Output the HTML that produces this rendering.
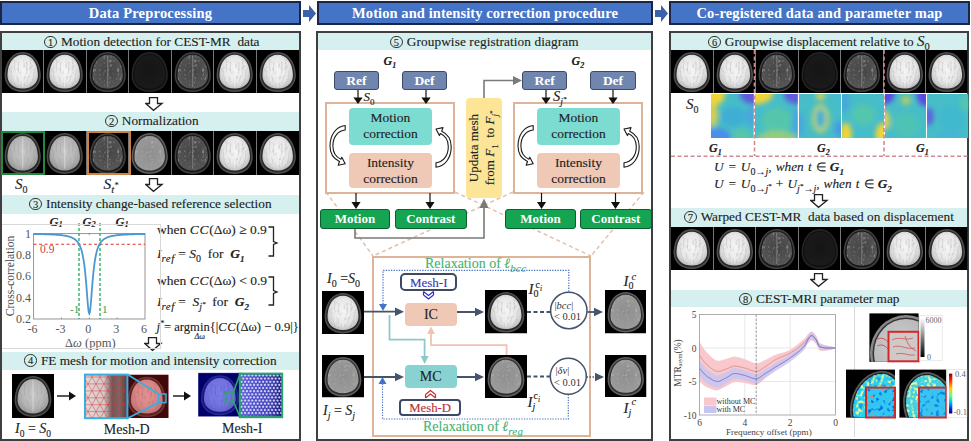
<!DOCTYPE html>
<html><head><meta charset="utf-8">
<style>
html,body{margin:0;padding:0;}
body{width:971px;height:441px;overflow:hidden;background:#fff;position:relative;font-family:"Liberation Serif",serif;color:#222;-webkit-text-stroke-width:0.12px;}
.a{position:absolute;}
.hdr{-webkit-text-stroke-width:0;position:absolute;top:1px;height:20px;background:#4573c5;border:2px solid #1b2647;color:#fff;font-weight:bold;font-size:14.5px;text-align:center;line-height:21px;letter-spacing:0.2px;}
.pnl{position:absolute;top:31px;height:406px;border:2px solid #3f3f3f;}
.band{position:absolute;background:#d5f0ef;font-size:13.3px;text-align:center;line-height:17.6px;text-indent:3px;color:#222;}
.strip{position:absolute;background:#000;}
.bi{position:absolute;width:43px;height:43px;}
.i{font-style:italic;}
.cn{display:inline-block;width:10.5px;height:10.5px;border:1.2px solid #333;border-radius:50%;font-size:10.5px;line-height:11px;text-align:center;vertical-align:0.5px;margin-right:4px;text-indent:0;}
.b{font-weight:bold;}
</style></head><body>
<svg width="0" height="0" style="position:absolute">
<defs>
<radialGradient id="gB" cx="50%" cy="45%" r="55%"><stop offset="0" stop-color="#f6f6f6"/><stop offset="0.7" stop-color="#e6e6e6"/><stop offset="1" stop-color="#c4c4c4"/></radialGradient>
<radialGradient id="gM" cx="50%" cy="45%" r="55%"><stop offset="0" stop-color="#c8c8c8"/><stop offset="0.7" stop-color="#b4b4b4"/><stop offset="1" stop-color="#9a9a9a"/></radialGradient>
<radialGradient id="gD" cx="50%" cy="45%" r="55%"><stop offset="0" stop-color="#444"/><stop offset="1" stop-color="#555"/></radialGradient>
<radialGradient id="gV" cx="50%" cy="45%" r="55%"><stop offset="0" stop-color="#151515"/><stop offset="1" stop-color="#1a1a1a"/></radialGradient>
<radialGradient id="gT" cx="50%" cy="45%" r="55%"><stop offset="0" stop-color="#8e8e8e"/><stop offset="1" stop-color="#9a9a9a"/></radialGradient>

<filter id="soft" x="-5%" y="-5%" width="110%" height="110%"><feGaussianBlur stdDeviation="0.8"/></filter>
<filter id="txD" x="0" y="0" width="100%" height="100%"><feTurbulence type="turbulence" baseFrequency="0.32 0.2" numOctaves="2" seed="7" result="n"/><feColorMatrix in="n" type="matrix" values="0 0 0 0 0.45  0 0 0 0 0.45  0 0 0 0 0.45  1.4 0 0 0 -0.42" result="m"/><feGaussianBlur in="m" stdDeviation="0.5" result="m2"/><feComposite in="m2" in2="SourceGraphic" operator="in"/></filter>
<filter id="txL" x="0" y="0" width="100%" height="100%"><feTurbulence type="turbulence" baseFrequency="0.35 0.22" numOctaves="2" seed="11" result="n"/><feColorMatrix in="n" type="matrix" values="0 0 0 0 0.55  0 0 0 0 0.55  0 0 0 0 0.55  1.1 0 0 0 -0.35" result="m"/><feGaussianBlur in="m" stdDeviation="0.5" result="m2"/><feComposite in="m2" in2="SourceGraphic" operator="in"/></filter>
<symbol id="bB" viewBox="0 0 43 43"><rect width="43" height="43" fill="#000"/><g><path d="M21.5,2C32,2 39.5,11 40.3,24C41,34 34,42 21.5,42C9,42 2,34 2.7,24C3.5,11 11,2 21.5,2Z" fill="#4e4e4e"/><path d="M21.5,3.5C31,3.5 38,12 38.8,24C39.5,33 33,40.5 21.5,40.5C10,40.5 3.5,33 4.2,24C5,12 12,3.5 21.5,3.5Z" fill="#2a2a2a"/><path d="M21.5,4.8C30.5,4.8 36.6,12.5 37.3,24C38,32 32,38.6 21.5,38.6C11,38.6 5,32 5.7,24C6.4,12.5 12.5,4.8 21.5,4.8Z" fill="url(#gB)"/><path d="M21.5,4.8C30.5,4.8 36.6,12.5 37.3,24C38,32 32,38.6 21.5,38.6C11,38.6 5,32 5.7,24C6.4,12.5 12.5,4.8 21.5,4.8Z" fill="#fff" filter="url(#txD)"/><path d="M12,9C15,13 11,17 14,21M8,18C12,22 8,26 12,30M11,31C14,33 12,35 15,37M17,12C18,16 16,20 18,24M31,9C28,13 32,17 29,21M35,18C31,22 35,26 31,30M32,31C29,33 31,35 28,37M26,12C25,16 27,20 25,24M15,26C17,28 15,31 18,33M28,26C26,28 28,31 25,33" stroke="#808080" stroke-width="0.8" fill="none" opacity="0.25"/><path d="M21.5,6V37" stroke="#f4f4f4" stroke-width="1.2" opacity="0.4"/></g></symbol><symbol id="bM" viewBox="0 0 43 43"><rect width="43" height="43" fill="#000"/><g><path d="M21.5,2C32,2 39.5,11 40.3,24C41,34 34,42 21.5,42C9,42 2,34 2.7,24C3.5,11 11,2 21.5,2Z" fill="#4a4a4a"/><path d="M21.5,3.5C31,3.5 38,12 38.8,24C39.5,33 33,40.5 21.5,40.5C10,40.5 3.5,33 4.2,24C5,12 12,3.5 21.5,3.5Z" fill="#262626"/><path d="M21.5,4.8C30.5,4.8 36.6,12.5 37.3,24C38,32 32,38.6 21.5,38.6C11,38.6 5,32 5.7,24C6.4,12.5 12.5,4.8 21.5,4.8Z" fill="url(#gM)"/><path d="M21.5,4.8C30.5,4.8 36.6,12.5 37.3,24C38,32 32,38.6 21.5,38.6C11,38.6 5,32 5.7,24C6.4,12.5 12.5,4.8 21.5,4.8Z" fill="#fff" filter="url(#txD)"/><path d="M12,9C15,13 11,17 14,21M8,18C12,22 8,26 12,30M11,31C14,33 12,35 15,37M17,12C18,16 16,20 18,24M31,9C28,13 32,17 29,21M35,18C31,22 35,26 31,30M32,31C29,33 31,35 28,37M26,12C25,16 27,20 25,24M15,26C17,28 15,31 18,33M28,26C26,28 28,31 25,33" stroke="#808080" stroke-width="0.8" fill="none" opacity="0.25"/><path d="M21.5,6V37" stroke="#f4f4f4" stroke-width="1.2" opacity="0.4"/></g></symbol><symbol id="bD" viewBox="0 0 43 43"><rect width="43" height="43" fill="#000"/><g><path d="M21.5,2C32,2 39.5,11 40.3,24C41,34 34,42 21.5,42C9,42 2,34 2.7,24C3.5,11 11,2 21.5,2Z" fill="#404040"/><path d="M21.5,3.5C31,3.5 38,12 38.8,24C39.5,33 33,40.5 21.5,40.5C10,40.5 3.5,33 4.2,24C5,12 12,3.5 21.5,3.5Z" fill="#1a1a1a"/><path d="M21.5,4.8C30.5,4.8 36.6,12.5 37.3,24C38,32 32,38.6 21.5,38.6C11,38.6 5,32 5.7,24C6.4,12.5 12.5,4.8 21.5,4.8Z" fill="url(#gD)"/><path d="M21.5,4.8C30.5,4.8 36.6,12.5 37.3,24C38,32 32,38.6 21.5,38.6C11,38.6 5,32 5.7,24C6.4,12.5 12.5,4.8 21.5,4.8Z" fill="#fff" filter="url(#txL)"/><path d="M21.5,6V37" stroke="#9a9a9a" stroke-width="1.1" opacity="0.6"/></g></symbol><symbol id="bV" viewBox="0 0 43 43"><rect width="43" height="43" fill="#000"/><g><path d="M21.5,2C32,2 39.5,11 40.3,24C41,34 34,42 21.5,42C9,42 2,34 2.7,24C3.5,11 11,2 21.5,2Z" fill="#252525"/><path d="M21.5,3.5C31,3.5 38,12 38.8,24C39.5,33 33,40.5 21.5,40.5C10,40.5 3.5,33 4.2,24C5,12 12,3.5 21.5,3.5Z" fill="#111"/><path d="M21.5,4.8C30.5,4.8 36.6,12.5 37.3,24C38,32 32,38.6 21.5,38.6C11,38.6 5,32 5.7,24C6.4,12.5 12.5,4.8 21.5,4.8Z" fill="url(#gV)"/></g></symbol><symbol id="bT" viewBox="0 0 43 43"><rect width="43" height="43" fill="#000"/><g><path d="M21.5,2C32,2 39.5,11 40.3,24C41,34 34,42 21.5,42C9,42 2,34 2.7,24C3.5,11 11,2 21.5,2Z" fill="#5e5e5e"/><path d="M21.5,3.5C31,3.5 38,12 38.8,24C39.5,33 33,40.5 21.5,40.5C10,40.5 3.5,33 4.2,24C5,12 12,3.5 21.5,3.5Z" fill="#303030"/><path d="M21.5,4.8C30.5,4.8 36.6,12.5 37.3,24C38,32 32,38.6 21.5,38.6C11,38.6 5,32 5.7,24C6.4,12.5 12.5,4.8 21.5,4.8Z" fill="url(#gT)"/><path d="M21.5,4.8C30.5,4.8 36.6,12.5 37.3,24C38,32 32,38.6 21.5,38.6C11,38.6 5,32 5.7,24C6.4,12.5 12.5,4.8 21.5,4.8Z" fill="#fff" filter="url(#txL)"/></g></symbol></defs></svg>

<!-- headers -->
<div class="hdr" style="left:0;width:297px;">Data Preprocessing</div>
<svg class="a" style="left:302px;top:5px" width="15" height="17"><path d="M1,5H7V0L14,8.5L7,17V12H1Z" fill="#3b62a8"/></svg>
<div class="hdr" style="left:317px;width:332px;letter-spacing:0.08px">Motion and intensity correction procedure</div>
<svg class="a" style="left:654px;top:5px" width="15" height="17"><path d="M1,5H7V0L14,8.5L7,17V12H1Z" fill="#3b62a8"/></svg>
<div class="hdr" style="left:669px;width:297px;letter-spacing:0.12px">Co-registered data and parameter map</div>

<!-- panels -->
<div class="pnl" style="left:0;width:297px;"></div>
<div class="pnl" style="left:316px;width:333px;"></div>
<div class="pnl" style="left:669px;width:296px;"></div>

<!-- LEFT PANEL -->
<div class="band" style="left:2px;top:33px;width:297px;height:17px;"><span class="cn">1</span>Motion detection for CEST-MR&nbsp; data</div>
<div class="strip" style="left:2px;top:50px;width:297px;height:43px;"></div>

<div class="band" style="left:2px;top:112px;width:297px;height:19px;"><span class="cn">2</span>Normalization</div>
<div class="strip" style="left:2px;top:131px;width:297px;height:44px;"></div>

<div class="band" style="left:2px;top:195px;width:297px;height:19px;text-indent:0"><span class="cn">3</span>Intensity change-based reference selection</div>

<div class="band" style="left:2px;top:351.5px;width:297px;height:18px;text-indent:0"><span class="cn">4</span>FE mesh for motion and intensity correction</div>


<!-- LEFT content -->
<svg class="a" style="left:2.0px;top:50px" width="41.4" height="43" viewBox="0 0 43 43" preserveAspectRatio="none"><use href="#bB"/></svg>
<svg class="a" style="left:44.4px;top:50px" width="41.4" height="43" viewBox="0 0 43 43" preserveAspectRatio="none"><use href="#bB"/></svg>
<div class="a" style="left:43.4px;top:50px;width:1px;height:43px;background:#777"></div>
<svg class="a" style="left:86.9px;top:50px" width="41.4" height="43" viewBox="0 0 43 43" preserveAspectRatio="none"><use href="#bD"/></svg>
<div class="a" style="left:85.9px;top:50px;width:1px;height:43px;background:#777"></div>
<svg class="a" style="left:129.3px;top:50px" width="41.4" height="43" viewBox="0 0 43 43" preserveAspectRatio="none"><use href="#bV"/></svg>
<div class="a" style="left:128.3px;top:50px;width:1px;height:43px;background:#777"></div>
<svg class="a" style="left:171.7px;top:50px" width="41.4" height="43" viewBox="0 0 43 43" preserveAspectRatio="none"><use href="#bD"/></svg>
<div class="a" style="left:170.7px;top:50px;width:1px;height:43px;background:#777"></div>
<svg class="a" style="left:214.1px;top:50px" width="41.4" height="43" viewBox="0 0 43 43" preserveAspectRatio="none"><use href="#bB"/></svg>
<div class="a" style="left:213.1px;top:50px;width:1px;height:43px;background:#777"></div>
<svg class="a" style="left:256.6px;top:50px" width="41.4" height="43" viewBox="0 0 43 43" preserveAspectRatio="none"><use href="#bB"/></svg>
<div class="a" style="left:255.6px;top:50px;width:1px;height:43px;background:#777"></div>
<svg class="a" style="left:145px;top:97px" width="19" height="15"><path d="M4.5,0.7H12.5V6.5H17L8.5,13.3L0.7,6.5H4.5Z" fill="#fff" stroke="#222" stroke-width="1.3"/></svg>
<svg class="a" style="left:2.0px;top:131px" width="41.4" height="44" viewBox="0 0 43 43" preserveAspectRatio="none"><use href="#bM"/></svg>
<svg class="a" style="left:44.4px;top:131px" width="41.4" height="44" viewBox="0 0 43 43" preserveAspectRatio="none"><use href="#bM"/></svg>
<div class="a" style="left:43.4px;top:131px;width:1px;height:44px;background:#777"></div>
<svg class="a" style="left:86.9px;top:131px" width="41.4" height="44" viewBox="0 0 43 43" preserveAspectRatio="none"><use href="#bD"/></svg>
<div class="a" style="left:85.9px;top:131px;width:1px;height:44px;background:#777"></div>
<svg class="a" style="left:129.3px;top:131px" width="41.4" height="44" viewBox="0 0 43 43" preserveAspectRatio="none"><use href="#bT"/></svg>
<div class="a" style="left:128.3px;top:131px;width:1px;height:44px;background:#777"></div>
<svg class="a" style="left:171.7px;top:131px" width="41.4" height="44" viewBox="0 0 43 43" preserveAspectRatio="none"><use href="#bD"/></svg>
<div class="a" style="left:170.7px;top:131px;width:1px;height:44px;background:#777"></div>
<svg class="a" style="left:214.1px;top:131px" width="41.4" height="44" viewBox="0 0 43 43" preserveAspectRatio="none"><use href="#bB"/></svg>
<div class="a" style="left:213.1px;top:131px;width:1px;height:44px;background:#777"></div>
<svg class="a" style="left:256.6px;top:131px" width="41.4" height="44" viewBox="0 0 43 43" preserveAspectRatio="none"><use href="#bB"/></svg>
<div class="a" style="left:255.6px;top:131px;width:1px;height:44px;background:#777"></div>
<div class="a" style="left:1px;top:131px;width:40px;height:40px;border:2px solid #1f8a3c"></div>
<div class="a" style="left:87px;top:131px;width:40px;height:40px;border:2px solid #d08040"></div>
<div class="a i" style="left:15px;top:176px;font-size:15px">S<sub style="font-size:10px;font-style:normal">0</sub></div>
<div class="a i" style="left:103.5px;top:175px;font-size:15.5px">S<sub style="font-size:11px">t<sup style="font-size:8px">*</sup></sub></div>
<svg class="a" style="left:145px;top:178px" width="19" height="15"><path d="M4.5,0.7H12.5V6.5H17L8.5,13.3L0.7,6.5H4.5Z" fill="#fff" stroke="#222" stroke-width="1.3"/></svg>


<svg class="a" style="left:0;top:214px" width="300" height="136" viewBox="0 214 300 136">
<g font-family="Liberation Serif" font-size="12" fill="#555">
<rect x="33.6" y="233.6" width="111.4" height="85.4" fill="none" stroke="#8a8a8a" stroke-width="0.9"/>
<path d="M61.5,319.0v-1.5M61.5,233.6v1.5" stroke="#555" stroke-width="0.6"/><path d="M89.3,319.0v-1.5M89.3,233.6v1.5" stroke="#555" stroke-width="0.6"/><path d="M117.2,319.0v-1.5M117.2,233.6v1.5" stroke="#555" stroke-width="0.6"/>
<text x="31" y="237.6" text-anchor="end">1</text><text x="31" y="258.9" text-anchor="end">0.8</text><text x="31" y="280.3" text-anchor="end">0.6</text><text x="31" y="301.6" text-anchor="end">0.4</text><text x="31" y="323.0" text-anchor="end">0.2</text>
<text x="32.6" y="333" text-anchor="middle">-6</text><text x="60.5" y="333" text-anchor="middle">-3</text><text x="88.3" y="333" text-anchor="middle">0</text><text x="116.2" y="333" text-anchor="middle">3</text><text x="144.0" y="333" text-anchor="middle">6</text>
<text x="65" y="347" font-size="12.5">Δ<tspan font-style="italic">ω</tspan> (ppm)</text>
<text transform="translate(13.5,276) rotate(-90)" text-anchor="middle" font-size="11.6" fill="#444">Cross-correlation</text>
</g>
<path d="M33.6,244.3H145" stroke="#d93030" stroke-width="1.1" stroke-dasharray="3,2.5"/>
<text x="40" y="253" font-family="Liberation Serif" font-size="11.5" fill="#d04040">0.9</text>
<path d="M79,223V319.0M100,223V319.0" stroke="#2fae66" stroke-width="1.4" stroke-dasharray="3,2"/>
<text x="70" y="313" font-family="Liberation Serif" font-size="11" fill="#1ea050">-1</text>
<text x="102" y="313" font-family="Liberation Serif" font-size="11" fill="#1ea050">1</text>
<polyline points="33.60,234.01 34.06,234.02 34.53,234.02 34.99,234.03 35.46,234.04 35.92,234.05 36.38,234.06 36.85,234.06 37.31,234.07 37.78,234.08 38.24,234.09 38.71,234.10 39.17,234.11 39.63,234.12 40.10,234.13 40.56,234.14 41.03,234.15 41.49,234.16 41.96,234.17 42.42,234.18 42.88,234.19 43.35,234.20 43.81,234.21 44.28,234.23 44.74,234.24 45.20,234.25 45.67,234.27 46.13,234.28 46.60,234.30 47.06,234.31 47.53,234.33 47.99,234.34 48.45,234.36 48.92,234.38 49.38,234.40 49.85,234.42 50.31,234.43 50.77,234.45 51.24,234.48 51.70,234.50 52.17,234.52 52.63,234.54 53.10,234.57 53.56,234.59 54.02,234.62 54.49,234.64 54.95,234.67 55.42,234.70 55.88,234.73 56.34,234.76 56.81,234.80 57.27,234.83 57.74,234.87 58.20,234.90 58.67,234.94 59.13,234.98 59.59,235.03 60.06,235.07 60.52,235.12 60.99,235.17 61.45,235.22 61.91,235.27 62.38,235.33 62.84,235.39 63.31,235.45 63.77,235.52 64.24,235.59 64.70,235.66 65.16,235.74 65.63,235.82 66.09,235.91 66.56,236.00 67.02,236.10 67.48,236.21 67.95,236.32 68.41,236.43 68.88,236.56 69.34,236.69 69.81,236.84 70.27,236.99 70.73,237.15 71.20,237.33 71.66,237.52 72.13,237.72 72.59,237.94 73.05,238.18 73.52,238.44 73.98,238.71 74.45,239.02 74.91,239.35 75.38,239.71 75.84,240.10 76.30,240.53 76.77,241.01 77.23,241.53 77.70,242.11 78.16,242.75 78.62,243.46 79.09,244.26 79.55,245.14 80.02,246.14 80.48,247.27 80.95,248.54 81.41,249.97 81.87,251.61 82.34,253.48 82.80,255.61 83.27,258.05 83.73,260.85 84.19,264.06 84.66,267.73 85.12,271.91 85.59,276.61 86.05,281.85 86.52,287.53 86.98,293.51 87.44,299.48 87.91,305.01 88.37,309.57 88.84,312.60 89.30,313.66 89.76,312.60 90.23,309.57 90.69,305.01 91.16,299.48 91.62,293.51 92.09,287.53 92.55,281.85 93.01,276.61 93.48,271.91 93.94,267.73 94.41,264.06 94.87,260.85 95.33,258.05 95.80,255.61 96.26,253.48 96.73,251.61 97.19,249.97 97.66,248.54 98.12,247.27 98.58,246.14 99.05,245.14 99.51,244.26 99.98,243.46 100.44,242.75 100.90,242.11 101.37,241.53 101.83,241.01 102.30,240.53 102.76,240.10 103.22,239.71 103.69,239.35 104.15,239.02 104.62,238.71 105.08,238.44 105.55,238.18 106.01,237.94 106.47,237.72 106.94,237.52 107.40,237.33 107.87,237.15 108.33,236.99 108.79,236.84 109.26,236.69 109.72,236.56 110.19,236.43 110.65,236.32 111.12,236.21 111.58,236.10 112.04,236.00 112.51,235.91 112.97,235.82 113.44,235.74 113.90,235.66 114.37,235.59 114.83,235.52 115.29,235.45 115.76,235.39 116.22,235.33 116.69,235.27 117.15,235.22 117.61,235.17 118.08,235.12 118.54,235.07 119.01,235.03 119.47,234.98 119.94,234.94 120.40,234.90 120.86,234.87 121.33,234.83 121.79,234.80 122.26,234.76 122.72,234.73 123.18,234.70 123.65,234.67 124.11,234.64 124.58,234.62 125.04,234.59 125.51,234.57 125.97,234.54 126.43,234.52 126.90,234.50 127.36,234.48 127.83,234.45 128.29,234.43 128.75,234.42 129.22,234.40 129.68,234.38 130.15,234.36 130.61,234.34 131.08,234.33 131.54,234.31 132.00,234.30 132.47,234.28 132.93,234.27 133.40,234.25 133.86,234.24 134.32,234.23 134.79,234.21 135.25,234.20 135.72,234.19 136.18,234.18 136.65,234.17 137.11,234.16 137.57,234.15 138.04,234.14 138.50,234.13 138.97,234.12 139.43,234.11 139.89,234.10 140.36,234.09 140.82,234.08 141.29,234.07 141.75,234.06 142.22,234.06 142.68,234.05 143.14,234.04 143.61,234.03 144.07,234.02 144.54,234.02 145.00,234.01" fill="none" stroke="#4a98d2" stroke-width="1.8"/>
<g font-family="Liberation Serif" font-size="12.5" font-weight="bold" font-style="italic" fill="#222">
<text x="49.5" y="225.5">G<tspan font-size="8.5" dy="1.5">1</tspan></text>
<text x="82.5" y="225.5">G<tspan font-size="8.5" dy="1.5">2</tspan></text>
<text x="115.5" y="225.5">G<tspan font-size="8.5" dy="1.5">1</tspan></text>
</g>
</svg>

<div class="a" style="left:157px;top:222px;font-size:13.5px;white-space:nowrap">when <span class="i" style="letter-spacing:0.8px">CC</span>(Δω) ≥ 0.9</div>
<div class="a" style="left:157px;top:246px;font-size:13.5px;white-space:nowrap"><span class="i">I<sub style="font-size:11px;letter-spacing:0.5px">ref</sub></span> = <span class="i">S</span><sub style="font-size:10px">0</sub>&nbsp; for&nbsp; <b class="i">G<sub style="font-size:9px">1</sub></b></div>
<div class="a" style="left:157px;top:273px;font-size:13.5px;white-space:nowrap">when <span class="i" style="letter-spacing:0.8px">CC</span>(Δω) &lt; 0.9</div>
<div class="a" style="left:157px;top:294px;font-size:13.5px;white-space:nowrap"><span class="i">I<sub style="font-size:11px;letter-spacing:0.5px">ref</sub></span> =&nbsp; <span class="i">S<sub style="font-size:10px">j<sup style="font-size:7px">*</sup></sub></span>&nbsp; for&nbsp; <b class="i">G<sub style="font-size:9px">2</sub></b></div>
<svg class="a" style="left:266px;top:224px" width="16" height="90"><path d="M2.5,3H7.5V17.5L11,19L7.5,20.5V32H2.5" fill="none" stroke="#222" stroke-width="1.3"/><path d="M2.5,53H7.5V66.5L11,68L7.5,69.5V81H2.5" fill="none" stroke="#222" stroke-width="1.3"/></svg>
<div class="a" style="left:156.5px;top:318.5px;font-size:12.6px;white-space:nowrap"><span class="i">j<sup style="font-size:8px">*</sup></span>= argmin{|<span class="i" style="letter-spacing:0.6px">CC</span>(Δω) − 0.9|}</div>
<div class="a i" style="left:194.5px;top:331.5px;font-size:8px">Δω</div>
<svg class="a" style="left:144px;top:337px" width="19" height="15"><path d="M4.5,0.7H12.5V6.5H17L8.5,13.3L0.7,6.5H4.5Z" fill="#fff" stroke="#222" stroke-width="1.3"/></svg>

<div class="a" style="left:2px;top:223.5px;width:158px;height:0;border-top:1px solid #d8d8d8"></div>
<div class="a" style="left:159.5px;top:223.5px;width:0;height:125px;border-left:1px solid #d8d8d8"></div>
<div class="a" style="left:2px;top:348px;width:158px;height:0;border-top:1px solid #d8d8d8"></div>
<!-- panel 4 -->
<svg class="a" style="left:12px;top:374px" width="42" height="44" viewBox="0 0 43 43" preserveAspectRatio="none"><use href="#bM"/></svg>
<svg class="a" style="left:0;top:369px" width="300" height="70" viewBox="0 369 300 70">
<defs>
<clipPath id="cMD"><rect x="85" y="375" width="42" height="43"/></clipPath>
<clipPath id="cMI"><rect x="240" y="374" width="42" height="43"/></clipPath>
<linearGradient id="gMD" x1="0" x2="1" y1="0" y2="0"><stop offset="0" stop-color="#e2dada"/><stop offset="0.45" stop-color="#d4c8c8"/><stop offset="0.65" stop-color="#6a5a5a"/><stop offset="0.82" stop-color="#7a6868"/><stop offset="1" stop-color="#504040"/></linearGradient>
<linearGradient id="gMIo" x1="0" x2="1" y1="0" y2="0"><stop offset="0" stop-color="#fff" stop-opacity="0.15"/><stop offset="0.55" stop-color="#fff" stop-opacity="0.05"/><stop offset="1" stop-color="#000040" stop-opacity="0.35"/></linearGradient>
<linearGradient id="gMI" x1="0" x2="1" y1="0" y2="0"><stop offset="0" stop-color="#3838c8"/><stop offset="0.5" stop-color="#3030b8"/><stop offset="1" stop-color="#101090"/></linearGradient>
<radialGradient id="gRB" cx="45%" cy="50%" r="55%"><stop offset="0" stop-color="#e0b0b0"/><stop offset="0.8" stop-color="#c89090"/><stop offset="1" stop-color="#6a3030"/></radialGradient>
<radialGradient id="gBB" cx="45%" cy="50%" r="55%"><stop offset="0" stop-color="#9a9af0"/><stop offset="0.8" stop-color="#7c7ce0"/><stop offset="1" stop-color="#3030a0"/></radialGradient>
</defs>
<path d="M57,396H70" stroke="#111" stroke-width="1.4"/><path d="M69,391.5L76,396L69,400.5Z" fill="#111"/>
<g style="isolation:isolate"><use href="#bB" x="125.2" y="374.8" width="43.2" height="43.2"/>
<rect x="125.2" y="374.8" width="43.2" height="43.2" fill="#e09090" style="mix-blend-mode:multiply"/>
<rect x="125.2" y="374.8" width="43.2" height="43.2" fill="#400808" style="mix-blend-mode:screen"/></g>
<rect x="85" y="375" width="42" height="43" fill="url(#gMD)"/>
<g clip-path="url(#cMD)" opacity="0.75"><path d="M84,370.1H128 M84,377.0H128 M84,383.9H128 M84,390.9H128 M84,397.8H128 M84,404.7H128 M84,411.6H128 M84,418.6H128 M16.0,370.1l28.9,50 M16.0,370.1l-28.9,50 M24.0,370.1l28.9,50 M24.0,370.1l-28.9,50 M32.0,370.1l28.9,50 M32.0,370.1l-28.9,50 M40.0,370.1l28.9,50 M40.0,370.1l-28.9,50 M48.0,370.1l28.9,50 M48.0,370.1l-28.9,50 M56.0,370.1l28.9,50 M56.0,370.1l-28.9,50 M64.0,370.1l28.9,50 M64.0,370.1l-28.9,50 M72.0,370.1l28.9,50 M72.0,370.1l-28.9,50 M80.0,370.1l28.9,50 M80.0,370.1l-28.9,50 M88.0,370.1l28.9,50 M88.0,370.1l-28.9,50 M96.0,370.1l28.9,50 M96.0,370.1l-28.9,50 M104.0,370.1l28.9,50 M104.0,370.1l-28.9,50 M112.0,370.1l28.9,50 M112.0,370.1l-28.9,50 M120.0,370.1l28.9,50 M120.0,370.1l-28.9,50 M128.0,370.1l28.9,50 M128.0,370.1l-28.9,50 M136.0,370.1l28.9,50 M136.0,370.1l-28.9,50 M144.0,370.1l28.9,50 M144.0,370.1l-28.9,50 M152.0,370.1l28.9,50 M152.0,370.1l-28.9,50 M160.0,370.1l28.9,50 M160.0,370.1l-28.9,50 M168.0,370.1l28.9,50 M168.0,370.1l-28.9,50 M176.0,370.1l28.9,50 M176.0,370.1l-28.9,50 M184.0,370.1l28.9,50 M184.0,370.1l-28.9,50" stroke="#e03030" stroke-width="0.7" fill="none" opacity="0.9"/></g>
<rect x="85" y="374.6" width="42.4" height="43.6" fill="none" stroke="#38aee0" stroke-width="2"/>
<rect x="158.5" y="394" width="7.5" height="8.6" fill="none" stroke="#38aee0" stroke-width="1.5"/>
<path d="M127.6,374.6L158.5,394M127.6,418.2L158.5,402.6" stroke="#38aee0" stroke-width="1.8"/>
<path d="M173,396H185" stroke="#111" stroke-width="1.4"/><path d="M184,391.5L191,396L184,400.5Z" fill="#111"/>
<g style="isolation:isolate"><use href="#bB" x="198.3" y="372.9" width="43" height="43.5"/>
<rect x="198.3" y="372.9" width="43" height="43.5" fill="#8080e0" style="mix-blend-mode:multiply"/>
<rect x="198.3" y="372.9" width="43" height="43.5" fill="#00006a" style="mix-blend-mode:screen"/></g>
<rect x="240" y="374" width="42" height="43" fill="url(#gMI)"/>
<g clip-path="url(#cMI)"><path d="M240,375.5H282 M240,378.6H282 M240,381.8H282 M240,384.9H282 M240,388.0H282 M240,391.2H282 M240,394.3H282 M240,397.4H282 M240,400.6H282 M240,403.7H282 M240,406.8H282 M240,410.0H282 M240,413.1H282 M240,416.2H282 M191.1,375.5l28.9,50M191.1,375.5l-28.9,50 M194.7,375.5l28.9,50M194.7,375.5l-28.9,50 M198.3,375.5l28.9,50M198.3,375.5l-28.9,50 M201.9,375.5l28.9,50M201.9,375.5l-28.9,50 M205.5,375.5l28.9,50M205.5,375.5l-28.9,50 M209.1,375.5l28.9,50M209.1,375.5l-28.9,50 M212.7,375.5l28.9,50M212.7,375.5l-28.9,50 M216.3,375.5l28.9,50M216.3,375.5l-28.9,50 M219.9,375.5l28.9,50M219.9,375.5l-28.9,50 M223.5,375.5l28.9,50M223.5,375.5l-28.9,50 M227.1,375.5l28.9,50M227.1,375.5l-28.9,50 M230.7,375.5l28.9,50M230.7,375.5l-28.9,50 M234.3,375.5l28.9,50M234.3,375.5l-28.9,50 M237.9,375.5l28.9,50M237.9,375.5l-28.9,50 M241.5,375.5l28.9,50M241.5,375.5l-28.9,50 M245.1,375.5l28.9,50M245.1,375.5l-28.9,50 M248.7,375.5l28.9,50M248.7,375.5l-28.9,50 M252.3,375.5l28.9,50M252.3,375.5l-28.9,50 M255.9,375.5l28.9,50M255.9,375.5l-28.9,50 M259.5,375.5l28.9,50M259.5,375.5l-28.9,50 M263.1,375.5l28.9,50M263.1,375.5l-28.9,50 M266.7,375.5l28.9,50M266.7,375.5l-28.9,50 M270.3,375.5l28.9,50M270.3,375.5l-28.9,50 M273.9,375.5l28.9,50M273.9,375.5l-28.9,50 M277.5,375.5l28.9,50M277.5,375.5l-28.9,50 M281.1,375.5l28.9,50M281.1,375.5l-28.9,50 M284.7,375.5l28.9,50M284.7,375.5l-28.9,50 M288.3,375.5l28.9,50M288.3,375.5l-28.9,50" stroke="#b0b0ff" stroke-width="0.5" opacity="0.6"/><rect x="240" y="374" width="42" height="43" fill="url(#gMIo)"/></g><g clip-path="url(#cMI)" fill="#e0e0ff" opacity="0.85"><circle cx="241.5" cy="375.5" r="1.1"/><circle cx="245.1" cy="375.5" r="1.1"/><circle cx="248.7" cy="375.5" r="1.1"/><circle cx="252.3" cy="375.5" r="1.1"/><circle cx="255.9" cy="375.5" r="1.1"/><circle cx="259.5" cy="375.5" r="1.1"/><circle cx="263.1" cy="375.5" r="1.1"/><circle cx="266.7" cy="375.5" r="1.1"/><circle cx="270.3" cy="375.5" r="1.1"/><circle cx="273.9" cy="375.5" r="1.1"/><circle cx="277.5" cy="375.5" r="1.1"/><circle cx="281.1" cy="375.5" r="1.1"/><circle cx="243.3" cy="378.6" r="1.1"/><circle cx="246.9" cy="378.6" r="1.1"/><circle cx="250.5" cy="378.6" r="1.1"/><circle cx="254.1" cy="378.6" r="1.1"/><circle cx="257.7" cy="378.6" r="1.1"/><circle cx="261.3" cy="378.6" r="1.1"/><circle cx="264.9" cy="378.6" r="1.1"/><circle cx="268.5" cy="378.6" r="1.1"/><circle cx="272.1" cy="378.6" r="1.1"/><circle cx="275.7" cy="378.6" r="1.1"/><circle cx="279.3" cy="378.6" r="1.1"/><circle cx="282.9" cy="378.6" r="1.1"/><circle cx="241.5" cy="381.8" r="1.1"/><circle cx="245.1" cy="381.8" r="1.1"/><circle cx="248.7" cy="381.8" r="1.1"/><circle cx="252.3" cy="381.8" r="1.1"/><circle cx="255.9" cy="381.8" r="1.1"/><circle cx="259.5" cy="381.8" r="1.1"/><circle cx="263.1" cy="381.8" r="1.1"/><circle cx="266.7" cy="381.8" r="1.1"/><circle cx="270.3" cy="381.8" r="1.1"/><circle cx="273.9" cy="381.8" r="1.1"/><circle cx="277.5" cy="381.8" r="1.1"/><circle cx="281.1" cy="381.8" r="1.1"/><circle cx="243.3" cy="384.9" r="1.1"/><circle cx="246.9" cy="384.9" r="1.1"/><circle cx="250.5" cy="384.9" r="1.1"/><circle cx="254.1" cy="384.9" r="1.1"/><circle cx="257.7" cy="384.9" r="1.1"/><circle cx="261.3" cy="384.9" r="1.1"/><circle cx="264.9" cy="384.9" r="1.1"/><circle cx="268.5" cy="384.9" r="1.1"/><circle cx="272.1" cy="384.9" r="1.1"/><circle cx="275.7" cy="384.9" r="1.1"/><circle cx="279.3" cy="384.9" r="1.1"/><circle cx="282.9" cy="384.9" r="1.1"/><circle cx="241.5" cy="388.0" r="1.1"/><circle cx="245.1" cy="388.0" r="1.1"/><circle cx="248.7" cy="388.0" r="1.1"/><circle cx="252.3" cy="388.0" r="1.1"/><circle cx="255.9" cy="388.0" r="1.1"/><circle cx="259.5" cy="388.0" r="1.1"/><circle cx="263.1" cy="388.0" r="1.1"/><circle cx="266.7" cy="388.0" r="1.1"/><circle cx="270.3" cy="388.0" r="1.1"/><circle cx="273.9" cy="388.0" r="1.1"/><circle cx="277.5" cy="388.0" r="1.1"/><circle cx="281.1" cy="388.0" r="1.1"/><circle cx="243.3" cy="391.2" r="1.1"/><circle cx="246.9" cy="391.2" r="1.1"/><circle cx="250.5" cy="391.2" r="1.1"/><circle cx="254.1" cy="391.2" r="1.1"/><circle cx="257.7" cy="391.2" r="1.1"/><circle cx="261.3" cy="391.2" r="1.1"/><circle cx="264.9" cy="391.2" r="1.1"/><circle cx="268.5" cy="391.2" r="1.1"/><circle cx="272.1" cy="391.2" r="1.1"/><circle cx="275.7" cy="391.2" r="1.1"/><circle cx="279.3" cy="391.2" r="1.1"/><circle cx="282.9" cy="391.2" r="1.1"/><circle cx="241.5" cy="394.3" r="1.1"/><circle cx="245.1" cy="394.3" r="1.1"/><circle cx="248.7" cy="394.3" r="1.1"/><circle cx="252.3" cy="394.3" r="1.1"/><circle cx="255.9" cy="394.3" r="1.1"/><circle cx="259.5" cy="394.3" r="1.1"/><circle cx="263.1" cy="394.3" r="1.1"/><circle cx="266.7" cy="394.3" r="1.1"/><circle cx="270.3" cy="394.3" r="1.1"/><circle cx="273.9" cy="394.3" r="1.1"/><circle cx="277.5" cy="394.3" r="1.1"/><circle cx="281.1" cy="394.3" r="1.1"/><circle cx="243.3" cy="397.4" r="1.1"/><circle cx="246.9" cy="397.4" r="1.1"/><circle cx="250.5" cy="397.4" r="1.1"/><circle cx="254.1" cy="397.4" r="1.1"/><circle cx="257.7" cy="397.4" r="1.1"/><circle cx="261.3" cy="397.4" r="1.1"/><circle cx="264.9" cy="397.4" r="1.1"/><circle cx="268.5" cy="397.4" r="1.1"/><circle cx="272.1" cy="397.4" r="1.1"/><circle cx="275.7" cy="397.4" r="1.1"/><circle cx="279.3" cy="397.4" r="1.1"/><circle cx="282.9" cy="397.4" r="1.1"/><circle cx="241.5" cy="400.6" r="1.1"/><circle cx="245.1" cy="400.6" r="1.1"/><circle cx="248.7" cy="400.6" r="1.1"/><circle cx="252.3" cy="400.6" r="1.1"/><circle cx="255.9" cy="400.6" r="1.1"/><circle cx="259.5" cy="400.6" r="1.1"/><circle cx="263.1" cy="400.6" r="1.1"/><circle cx="266.7" cy="400.6" r="1.1"/><circle cx="270.3" cy="400.6" r="1.1"/><circle cx="273.9" cy="400.6" r="1.1"/><circle cx="277.5" cy="400.6" r="1.1"/><circle cx="281.1" cy="400.6" r="1.1"/><circle cx="243.3" cy="403.7" r="1.1"/><circle cx="246.9" cy="403.7" r="1.1"/><circle cx="250.5" cy="403.7" r="1.1"/><circle cx="254.1" cy="403.7" r="1.1"/><circle cx="257.7" cy="403.7" r="1.1"/><circle cx="261.3" cy="403.7" r="1.1"/><circle cx="264.9" cy="403.7" r="1.1"/><circle cx="268.5" cy="403.7" r="1.1"/><circle cx="272.1" cy="403.7" r="1.1"/><circle cx="275.7" cy="403.7" r="1.1"/><circle cx="279.3" cy="403.7" r="1.1"/><circle cx="282.9" cy="403.7" r="1.1"/><circle cx="241.5" cy="406.8" r="1.1"/><circle cx="245.1" cy="406.8" r="1.1"/><circle cx="248.7" cy="406.8" r="1.1"/><circle cx="252.3" cy="406.8" r="1.1"/><circle cx="255.9" cy="406.8" r="1.1"/><circle cx="259.5" cy="406.8" r="1.1"/><circle cx="263.1" cy="406.8" r="1.1"/><circle cx="266.7" cy="406.8" r="1.1"/><circle cx="270.3" cy="406.8" r="1.1"/><circle cx="273.9" cy="406.8" r="1.1"/><circle cx="277.5" cy="406.8" r="1.1"/><circle cx="281.1" cy="406.8" r="1.1"/><circle cx="243.3" cy="410.0" r="1.1"/><circle cx="246.9" cy="410.0" r="1.1"/><circle cx="250.5" cy="410.0" r="1.1"/><circle cx="254.1" cy="410.0" r="1.1"/><circle cx="257.7" cy="410.0" r="1.1"/><circle cx="261.3" cy="410.0" r="1.1"/><circle cx="264.9" cy="410.0" r="1.1"/><circle cx="268.5" cy="410.0" r="1.1"/><circle cx="272.1" cy="410.0" r="1.1"/><circle cx="275.7" cy="410.0" r="1.1"/><circle cx="279.3" cy="410.0" r="1.1"/><circle cx="282.9" cy="410.0" r="1.1"/><circle cx="241.5" cy="413.1" r="1.1"/><circle cx="245.1" cy="413.1" r="1.1"/><circle cx="248.7" cy="413.1" r="1.1"/><circle cx="252.3" cy="413.1" r="1.1"/><circle cx="255.9" cy="413.1" r="1.1"/><circle cx="259.5" cy="413.1" r="1.1"/><circle cx="263.1" cy="413.1" r="1.1"/><circle cx="266.7" cy="413.1" r="1.1"/><circle cx="270.3" cy="413.1" r="1.1"/><circle cx="273.9" cy="413.1" r="1.1"/><circle cx="277.5" cy="413.1" r="1.1"/><circle cx="281.1" cy="413.1" r="1.1"/></g>
<rect x="239.8" y="373.6" width="42.4" height="43.6" fill="none" stroke="#28a868" stroke-width="2"/>
<rect x="225.5" y="392" width="8" height="9.7" fill="none" stroke="#28a868" stroke-width="1.8"/>
<path d="M233.5,392L240,374M233.5,401.7L240,417" stroke="#28a868" stroke-width="1.6"/>
</svg>
<div class="a i" style="left:15px;top:421px;font-size:14px;white-space:nowrap">I<sub style="font-size:9.5px;font-style:normal">0</sub> <span style="font-style:normal">=</span> S<sub style="font-size:9.5px;font-style:normal">0</sub></div>
<div class="a" style="left:103.8px;top:421.5px;font-size:14px">Mesh-D</div>
<div class="a" style="left:222px;top:420.5px;font-size:14px">Mesh-I</div>

<!-- MIDDLE PANEL -->
<div class="band" style="left:318px;top:33px;width:333px;height:17px;text-indent:0;letter-spacing:0.1px"><span class="cn">5</span>Groupwise registration diagram</div>


<style>
.refb{-webkit-text-stroke-width:0;height:17px;background:#7086ae;border:1.5px solid #3c4a6a;border-radius:3px;color:#fff;font-weight:bold;font-size:13.5px;text-align:center;line-height:17px;}
.tealb{background:#7ddcd2;border-radius:4px;font-size:13.5px;text-align:center;line-height:16px;padding-top:2px;box-sizing:border-box;color:#222;}
.pinkb{background:#f0c9b6;border-radius:4px;font-size:13.5px;text-align:center;line-height:16px;padding-top:2px;box-sizing:border-box;color:#222;}
.greenb{-webkit-text-stroke-width:0;background:#14a452;border:1.5px solid #0b5c30;border-radius:3px;color:#fff;font-weight:bold;font-size:13px;text-align:center;line-height:18px;height:18px !important;}
</style>

<svg class="a" style="left:316px;top:60px" width="337" height="200" viewBox="316 60 337 200">
<g stroke="#e2c0a8" stroke-width="1.5" stroke-dasharray="4,3" fill="none">
<path d="M326,192L373,256M455,192L591,256M513,192L373,256M644,192L591,256"/>
</g>
<g stroke="#7a7a7a" stroke-width="1.6" fill="none"><path d="M355,228.5V238H484V207"/><path d="M484,98V80.5H514"/></g>
<path d="M479.5,208L484,198.5L488.5,208Z" fill="#7a7a7a"/>
<path d="M513,76L522,80.5L513,85Z" fill="#7a7a7a"/>
</svg>
<div class="a b i" style="left:383.5px;top:53.5px;font-size:12px">G<sub style="font-size:8px">1</sub></div>
<div class="a refb" style="left:334px;top:71px;width:42.6px;">Ref</div>
<div class="a refb" style="left:402px;top:71px;width:43px;">Def</div>
<div class="a" style="left:325px;top:101.5px;width:126px;height:88px;border:2px solid #ddb49a"></div>
<div class="a tealb" style="left:349px;top:108px;width:83px;height:37px;">Motion<br>correction</div>
<div class="a pinkb" style="left:349px;top:152.5px;width:83px;height:35.5px;">Intensity<br>correction</div>
<div class="a i" style="left:363.5px;top:89px;font-size:13px">S<sub style="font-size:9px;font-style:normal">0</sub></div>
<svg class="a" style="left:320px;top:88px" width="150" height="125">
<g stroke="#111" stroke-width="1.2" fill="#111">
<path d="M38,2V11" fill="none"/><path d="M34.5,10L38,15L41.5,10Z"/>
<path d="M106,2V11" fill="none"/><path d="M102.5,10L106,15L109.5,10Z"/>
<path d="M36,105V116" fill="none"/><path d="M32.5,114.5L36,120L39.5,114.5Z"/>
<path d="M110,105V116" fill="none"/><path d="M106.5,114.5L110,120L113.5,114.5Z"/>
</g>
<g fill="#fff" stroke="#1a1a1a" stroke-width="1.1" stroke-linejoin="round"><path id="carr" d="M25.2,37.5C16,38.5 10,47 10,58C10,66 14,71 19.5,73.5L18.2,77.2L25.2,75.8L21.8,69.2L20.9,71.2C15.8,69 12.9,64.5 12.9,58C12.9,49 18,42.8 25.2,42Z"/><use href="#carr" transform="rotate(180,70.6,58.4)"/></g>
</svg>
<div class="a greenb" style="left:320px;top:208.5px;width:68px;">Motion</div>
<div class="a greenb" style="left:395px;top:208.5px;width:69.5px;">Contrast</div>


<div class="a b i" style="left:571.5px;top:53.5px;font-size:12px">G<sub style="font-size:8px">2</sub></div>
<div class="a refb" style="left:522.4px;top:71px;width:42.4px;">Ref</div>
<div class="a refb" style="left:590px;top:71px;width:44px;">Def</div>
<div class="a" style="left:513px;top:101.5px;width:126px;height:88px;border:2px solid #ddb49a"></div>
<div class="a tealb" style="left:537px;top:108px;width:83px;height:37px;">Motion<br>correction</div>
<div class="a pinkb" style="left:537px;top:152.5px;width:83px;height:35.5px;">Intensity<br>correction</div>
<div class="a i" style="left:553px;top:88px;font-size:14.5px">S<sub style="font-size:10px">j<sup style="font-size:7px">*</sup></sub></div>
<svg class="a" style="left:508px;top:88px" width="150" height="125">
<g stroke="#111" stroke-width="1.2" fill="#111">
<path d="M38,2V11" fill="none"/><path d="M34.5,10L38,15L41.5,10Z"/>
<path d="M105,2V11" fill="none"/><path d="M101.5,10L105,15L108.5,10Z"/>
<path d="M33.5,105V116" fill="none"/><path d="M30,114.5L33.5,120L37,114.5Z"/>
<path d="M107.5,105V116" fill="none"/><path d="M104,114.5L107.5,120L111,114.5Z"/>
</g>
<g fill="#fff" stroke="#1a1a1a" stroke-width="1.1" stroke-linejoin="round"><path id="carr2" d="M25.2,37.5C16,38.5 10,47 10,58C10,66 14,71 19.5,73.5L18.2,77.2L25.2,75.8L21.8,69.2L20.9,71.2C15.8,69 12.9,64.5 12.9,58C12.9,49 18,42.8 25.2,42Z"/><use href="#carr2" transform="rotate(180,70.6,58.4)"/></g>
</svg>
<div class="a greenb" style="left:505.4px;top:208.5px;width:68.3px;">Motion</div>
<div class="a greenb" style="left:580px;top:208.5px;width:69.8px;">Contrast</div>


<div class="a" style="left:466.3px;top:98px;width:35.4px;height:100px;background:#fde597;border-radius:4px;"></div>
<div class="a" style="left:434px;top:130px;width:100px;height:36px;transform:rotate(-90deg);font-size:13px;line-height:16px;text-align:center;white-space:nowrap">Updata mesh<br>from <span class="i">F</span><sub style="font-size:9px">1</sub>&nbsp; to <span class="i">F<sub style="font-size:9px">j<sup style="font-size:6.5px">*</sup></sub></span></div>


<!-- lower middle -->
<div class="a" style="left:372px;top:256px;width:215px;height:177px;border:2px solid #ddb49a"></div>
<div class="a" style="left:425px;top:255.5px;font-size:14px;color:#45b372;white-space:nowrap">Relaxation of <span class="i">ℓ<sub style="font-size:11px;letter-spacing:0.3px">bcc</sub></span></div>
<div class="a" style="left:423px;top:418.5px;font-size:14px;color:#45b372;white-space:nowrap">Relaxation of <span class="i">ℓ<sub style="font-size:11px;letter-spacing:0.3px">reg</sub></span></div>
<div class="a i" style="left:327px;top:271px;font-size:14px;white-space:nowrap">I<sub style="font-size:10px;font-style:normal">0</sub> <span style="font-style:normal">=</span>S<sub style="font-size:10px;font-style:normal">0</sub></div>
<div class="a i" style="left:323px;top:403px;font-size:14px;white-space:nowrap">I<sub style="font-size:10px">j</sub> <span style="font-style:normal">=</span> S<sub style="font-size:10px">j</sub></div>
<svg class="a" style="left:322px;top:290.5px" width="42" height="43.5" viewBox="0 0 43 43" preserveAspectRatio="none"><use href="#bB"/></svg>
<svg class="a" style="left:322px;top:355px" width="42" height="42.5" viewBox="0 0 43 43" preserveAspectRatio="none"><use href="#bT"/></svg>
<svg class="a" style="left:485px;top:290px" width="42" height="43.5" viewBox="0 0 43 43" preserveAspectRatio="none"><use href="#bB"/></svg>
<svg class="a" style="left:485px;top:355px" width="42" height="43" viewBox="0 0 43 43" preserveAspectRatio="none"><use href="#bT"/></svg>
<svg class="a" style="left:604.5px;top:290px" width="41.5" height="43.5" viewBox="0 0 43 43" preserveAspectRatio="none"><use href="#bT"/></svg>
<svg class="a" style="left:605px;top:355px" width="41.5" height="42" viewBox="0 0 43 43" preserveAspectRatio="none"><use href="#bT"/></svg>
<svg class="a" style="left:316px;top:256px" width="337" height="184" viewBox="316 256 337 184">
<g stroke="#4472c4" stroke-width="1.2" stroke-dasharray="1.3,1.3" fill="none">
<path d="M568.8,291.5V270.4H383V305"/>
<path d="M568.3,394.5V419H382.5V383"/>
</g>
<path d="M379,304L383,311L387,304Z" fill="#4472c4"/>
<path d="M378.5,384L382.5,377L386.5,384Z" fill="#4472c4"/>
<g stroke="#8ec8c8" stroke-width="1.8" fill="none"><path d="M389.5,315V339.6H424.6V357"/></g>
<path d="M420.6,356L424.6,364L428.6,356Z" fill="#8ec8c8"/>
<g stroke="#f0c4b0" stroke-width="1.8" fill="none"><path d="M431,334V345.2H506.6V355"/></g>
<path d="M427,334L431,326.5L435,334Z" fill="#f0c4b0"/>
<g stroke="#44546a" stroke-width="1.8" fill="none">
<path d="M364,311.7H396M364,377H396M457,312H476M457,377H476"/>
</g>
<g fill="#44546a">
<path d="M395,307.5L404,311.7L395,316Z"/><path d="M395,372.8L404,377L395,381.2Z"/>
<path d="M475,307.8L484,312L475,316.2Z"/><path d="M475,372.8L484,377L475,381.2Z"/>
<path d="M594,307.8L603,312L594,316.2Z"/>
<path d="M595,372.8L604,377L595,381.2Z"/>
</g>
<g stroke="#44546a" stroke-width="1.8" fill="none" stroke-dasharray="4,2.5">
<path d="M527,312H550"/><path d="M527,376.5H550"/>
</g>
<path d="M587.5,312H595" stroke="#44546a" stroke-width="1.8"/>
<path d="M586.5,377H596" stroke="#44546a" stroke-width="1.6" stroke-dasharray="1.5,1.5"/>
<circle cx="568.8" cy="310.5" r="18.2" fill="#fff" stroke="#44546a" stroke-width="1.5"/>
<circle cx="568.3" cy="376.3" r="18" fill="#fff" stroke="#44546a" stroke-width="1.5"/>
<g font-family="Liberation Serif" fill="#333">
<text x="554.5" y="309" font-size="10.5">|<tspan font-style="italic">bcc</tspan>|</text>
<text x="554" y="320" font-size="10.5">&lt; 0.01</text>
<text x="555.5" y="374" font-size="10.5">|<tspan font-style="italic">δv</tspan>|</text>
<text x="554" y="386" font-size="10.5">&lt; 0.01</text>
</g>
<path d="M423.5,291.5L428.5,295.5L433.5,291.5M423.5,295L428.5,299L433.5,295M423.5,291.5V295M433.5,291.5V295" stroke="#3030c0" stroke-width="1.2" fill="none"/>
<path d="M425.5,398L430.5,394L435.5,398M425.5,394.5L430.5,390.5L435.5,394.5M425.5,398V394.5M435.5,398V394.5" stroke="#c03030" stroke-width="1.2" fill="none"/>
</svg>
<div class="a" style="left:400px;top:272.7px;width:53.4px;height:14px;border:2px solid #3c4a66;border-radius:5px;background:#fff;color:#3438b8;font-size:13px;line-height:16px;text-align:center">Mesh-I</div>
<div class="a" style="left:399.3px;top:398.8px;width:57.7px;height:13px;border:2px solid #3c4a66;border-radius:4px;background:#fff;color:#b83030;font-size:12.8px;line-height:14px;text-align:center">Mesh-D</div>
<div class="a" style="left:404.8px;top:302.6px;width:52.2px;height:23.4px;background:#f0c9b6;border-radius:4px;font-size:14px;line-height:24px;text-align:center">IC</div>
<div class="a" style="left:404.5px;top:365.3px;width:52.5px;height:22.7px;background:#88d2d2;border-radius:4px;font-size:14px;line-height:23px;text-align:center">MC</div>
<div class="a i" style="left:528.5px;top:281px;font-size:15px;white-space:nowrap">I<sub style="font-size:10px;font-style:normal;vertical-align:-3px">0</sub></div><div class="a" style="left:535.5px;top:279px;font-size:10px">c<sub class="i" style="font-size:7.5px">i</sub></div>
<div class="a i" style="left:527.5px;top:393.5px;font-size:15px;white-space:nowrap">I<sub style="font-size:10px;vertical-align:-3px">j</sub></div><div class="a" style="left:533.5px;top:390px;font-size:10px">c<sub class="i" style="font-size:7.5px">i</sub></div>
<div class="a i" style="left:623.5px;top:273px;font-size:15px;white-space:nowrap">I<sub style="font-size:10px;font-style:normal;vertical-align:-3px">0</sub></div><div class="a i" style="left:631.5px;top:271px;font-size:10.5px">c</div>
<div class="a i" style="left:623.5px;top:399.5px;font-size:15px;white-space:nowrap">I<sub style="font-size:10px;vertical-align:-3px">j</sub></div><div class="a i" style="left:631.5px;top:396px;font-size:10.5px">c</div>

<!-- RIGHT PANEL -->
<div class="band" style="left:671px;top:33px;width:296px;height:17px;text-indent:0"><span class="cn">6</span>Groupwise displacement relative to <span class="i" style="font-size:15px">S</span><sub style="font-size:10.5px">0</sub></div>
<div class="strip" style="left:671px;top:50px;width:296px;height:43px;"></div>
<div class="band" style="left:671px;top:208px;width:296px;height:19px;text-indent:0"><span class="cn">7</span>Warped CEST-MR&nbsp; data based on displacement</div>
<div class="strip" style="left:671px;top:227px;width:296px;height:43px;"></div>
<div class="band" style="left:671px;top:290px;width:296px;height:17px;text-indent:1px"><span class="cn">8</span>CEST-MRI parameter map</div>


<!-- RIGHT content -->
<svg width="0" height="0" style="position:absolute"><defs><filter id="hblur" x="-50%" y="-50%" width="200%" height="200%"><feGaussianBlur stdDeviation="2.8"/></filter></defs></svg>
<svg class="a" style="left:671.0px;top:50px" width="41.6" height="43" viewBox="0 0 43 43" preserveAspectRatio="none"><use href="#bB"/></svg>
<svg class="a" style="left:713.6px;top:50px" width="41.6" height="43" viewBox="0 0 43 43" preserveAspectRatio="none"><use href="#bB"/></svg>
<div class="a" style="left:712.6px;top:50px;width:1px;height:43px;background:#777"></div>
<svg class="a" style="left:756.1px;top:50px" width="41.6" height="43" viewBox="0 0 43 43" preserveAspectRatio="none"><use href="#bD"/></svg>
<div class="a" style="left:755.1px;top:50px;width:1px;height:43px;background:#777"></div>
<svg class="a" style="left:798.7px;top:50px" width="41.6" height="43" viewBox="0 0 43 43" preserveAspectRatio="none"><use href="#bV"/></svg>
<div class="a" style="left:797.7px;top:50px;width:1px;height:43px;background:#777"></div>
<svg class="a" style="left:841.3px;top:50px" width="41.6" height="43" viewBox="0 0 43 43" preserveAspectRatio="none"><use href="#bD"/></svg>
<div class="a" style="left:840.3px;top:50px;width:1px;height:43px;background:#777"></div>
<svg class="a" style="left:883.9px;top:50px" width="41.6" height="43" viewBox="0 0 43 43" preserveAspectRatio="none"><use href="#bB"/></svg>
<div class="a" style="left:882.9px;top:50px;width:1px;height:43px;background:#777"></div>
<svg class="a" style="left:926.4px;top:50px" width="41.6" height="43" viewBox="0 0 43 43" preserveAspectRatio="none"><use href="#bB"/></svg>
<div class="a" style="left:925.4px;top:50px;width:1px;height:43px;background:#777"></div>
<svg class="a" style="left:711px;top:94px" width="42.8" height="44" viewBox="0 0 43 43" preserveAspectRatio="none"><defs><clipPath id="hc0"><rect width="43" height="43"/></clipPath></defs><g clip-path="url(#hc0)"><rect width="43" height="43" fill="#46bdc8"/><g filter="url(#hblur)"><ellipse cx="0" cy="0" rx="14" ry="12" fill="#f0d438" opacity="1"/><ellipse cx="2" cy="20" rx="5" ry="12" fill="#e8d040" opacity="0.9"/><ellipse cx="43" cy="0" rx="14" ry="10" fill="#6450e0" opacity="0.9"/><ellipse cx="6" cy="42" rx="14" ry="9" fill="#4a8ee8" opacity="1"/><ellipse cx="22" cy="22" rx="12" ry="10" fill="#3aa8d8" opacity="0.7"/><ellipse cx="30" cy="40" rx="10" ry="6" fill="#5cc8a0" opacity="0.8"/><ellipse cx="40" cy="22" rx="6" ry="10" fill="#4a9ae8" opacity="0.6"/></g></g></svg>
<svg class="a" style="left:755px;top:94px" width="42.8" height="44" viewBox="0 0 43 43" preserveAspectRatio="none"><defs><clipPath id="hc1"><rect width="43" height="43"/></clipPath></defs><g clip-path="url(#hc1)"><rect width="43" height="43" fill="#46bdc8"/><g filter="url(#hblur)"><ellipse cx="0" cy="0" rx="18" ry="10" fill="#f0d438" opacity="1"/><ellipse cx="43" cy="0" rx="14" ry="10" fill="#6450e0" opacity="0.9"/><ellipse cx="22" cy="26" rx="15" ry="13" fill="#56c6a8" opacity="0.9"/><ellipse cx="22" cy="43" rx="20" ry="7" fill="#a8d068" opacity="0.8"/><ellipse cx="43" cy="28" rx="6" ry="14" fill="#4a9ae8" opacity="0.6"/></g></g></svg>
<svg class="a" style="left:798.5px;top:94px" width="42" height="44" viewBox="0 0 43 43" preserveAspectRatio="none"><defs><clipPath id="hc2"><rect width="43" height="43"/></clipPath></defs><g clip-path="url(#hc2)"><rect width="43" height="43" fill="#46bdc8"/><g filter="url(#hblur)"><ellipse cx="22" cy="24" rx="9" ry="14" fill="#c8d458" opacity="0.9"/><ellipse cx="22" cy="24" rx="5" ry="10" fill="#40b0d0" opacity="1"/><ellipse cx="22" cy="2" rx="5" ry="4" fill="#e0d048" opacity="0.9"/><ellipse cx="42" cy="34" rx="6" ry="8" fill="#4a8ee8" opacity="0.8"/><ellipse cx="0" cy="30" rx="5" ry="12" fill="#4a9ae8" opacity="0.6"/></g></g></svg>
<svg class="a" style="left:841.5px;top:94px" width="42.3" height="44" viewBox="0 0 43 43" preserveAspectRatio="none"><defs><clipPath id="hc3"><rect width="43" height="43"/></clipPath></defs><g clip-path="url(#hc3)"><rect width="43" height="43" fill="#46bdc8"/><g filter="url(#hblur)"><ellipse cx="4" cy="40" rx="6" ry="12" fill="#f0d438" opacity="1"/><ellipse cx="42" cy="40" rx="8" ry="12" fill="#f0d438" opacity="1"/><ellipse cx="22" cy="20" rx="12" ry="10" fill="#58c8a8" opacity="0.8"/><ellipse cx="2" cy="8" rx="6" ry="10" fill="#4a9ae8" opacity="0.6"/></g></g></svg>
<svg class="a" style="left:885px;top:94px" width="41" height="44" viewBox="0 0 43 43" preserveAspectRatio="none"><defs><clipPath id="hc4"><rect width="43" height="43"/></clipPath></defs><g clip-path="url(#hc4)"><rect width="43" height="43" fill="#46bdc8"/><g filter="url(#hblur)"><ellipse cx="0" cy="0" rx="10" ry="10" fill="#5a48e0" opacity="1"/><ellipse cx="43" cy="0" rx="10" ry="12" fill="#5a48e0" opacity="1"/><ellipse cx="22" cy="6" rx="5" ry="5" fill="#c8d050" opacity="0.8"/><ellipse cx="0" cy="26" rx="5" ry="10" fill="#f0d040" opacity="0.9"/><ellipse cx="22" cy="30" rx="14" ry="12" fill="#50c4b0" opacity="0.8"/></g></g></svg>
<svg class="a" style="left:927px;top:94px" width="41.5" height="44" viewBox="0 0 43 43" preserveAspectRatio="none"><defs><clipPath id="hc5"><rect width="43" height="43"/></clipPath></defs><g clip-path="url(#hc5)"><rect width="43" height="43" fill="#46bdc8"/><g filter="url(#hblur)"><ellipse cx="2" cy="22" rx="5" ry="9" fill="#6058e0" opacity="0.9"/><ellipse cx="26" cy="24" rx="13" ry="13" fill="#40b8d0" opacity="0.8"/><ellipse cx="40" cy="10" rx="6" ry="8" fill="#5ac8a8" opacity="0.7"/><ellipse cx="22" cy="42" rx="12" ry="6" fill="#48b0d8" opacity="0.7"/></g></g></svg>
<svg class="a" style="left:669px;top:50px" width="302" height="110" viewBox="669 50 302 110">
<g stroke="#d08a94" stroke-width="1.6" stroke-dasharray="4,2.5" fill="none">
<path d="M754.5,50V156M884,50V156M671,156.3H968"/>
</g>
</svg>
<div class="a i" style="left:686px;top:96px;font-size:15px">S<sub style="font-size:10px;font-style:normal">0</sub></div>
<div class="a b i" style="left:709px;top:141px;font-size:12px">G<sub style="font-size:8px">1</sub></div>
<div class="a b i" style="left:817px;top:141px;font-size:12px">G<sub style="font-size:8px">2</sub></div>
<div class="a b i" style="left:916px;top:141px;font-size:12px">G<sub style="font-size:8px">1</sub></div>
<div class="a i" style="left:714px;top:159.3px;font-size:13.3px;white-space:nowrap;word-spacing:0.8px"><i>U</i> = <i>U</i><sub style="font-size:10px;font-style:normal">0→<i>j</i></sub>, when <i>t</i> <span style="font-style:normal;font-size:12px">∈</span> <b>G<sub style="font-size:9px">1</sub></b></div>
<div class="a i" style="left:714px;top:176.3px;font-size:13.3px;white-space:nowrap;word-spacing:0.8px"><i>U</i> = <i>U</i><sub style="font-size:10px;font-style:normal">0→<i>j</i><sup style="font-size:7px">*</sup></sub> <span style="font-style:normal">+</span> <i>U</i><sub style="font-size:10px;font-style:normal"><i>j</i><sup style="font-size:7px">*</sup>→<i>j</i></sub>, when <i>t</i> <span style="font-style:normal;font-size:12px">∈</span> <b>G<sub style="font-size:9px">2</sub></b></div>
<svg class="a" style="left:810px;top:194px" width="19" height="15"><path d="M4.5,0.7H12.5V6.5H17L8.5,13.3L0.7,6.5H4.5Z" fill="#fff" stroke="#222" stroke-width="1.3"/></svg>
<svg class="a" style="left:671.0px;top:227px" width="41.6" height="43" viewBox="0 0 43 43" preserveAspectRatio="none"><use href="#bB"/></svg>
<svg class="a" style="left:713.6px;top:227px" width="41.6" height="43" viewBox="0 0 43 43" preserveAspectRatio="none"><use href="#bB"/></svg>
<div class="a" style="left:712.6px;top:227px;width:1px;height:43px;background:#777"></div>
<svg class="a" style="left:756.1px;top:227px" width="41.6" height="43" viewBox="0 0 43 43" preserveAspectRatio="none"><use href="#bD"/></svg>
<div class="a" style="left:755.1px;top:227px;width:1px;height:43px;background:#777"></div>
<svg class="a" style="left:798.7px;top:227px" width="41.6" height="43" viewBox="0 0 43 43" preserveAspectRatio="none"><use href="#bV"/></svg>
<div class="a" style="left:797.7px;top:227px;width:1px;height:43px;background:#777"></div>
<svg class="a" style="left:841.3px;top:227px" width="41.6" height="43" viewBox="0 0 43 43" preserveAspectRatio="none"><use href="#bD"/></svg>
<div class="a" style="left:840.3px;top:227px;width:1px;height:43px;background:#777"></div>
<svg class="a" style="left:883.9px;top:227px" width="41.6" height="43" viewBox="0 0 43 43" preserveAspectRatio="none"><use href="#bB"/></svg>
<div class="a" style="left:882.9px;top:227px;width:1px;height:43px;background:#777"></div>
<svg class="a" style="left:926.4px;top:227px" width="41.6" height="43" viewBox="0 0 43 43" preserveAspectRatio="none"><use href="#bB"/></svg>
<div class="a" style="left:925.4px;top:227px;width:1px;height:43px;background:#777"></div>
<svg class="a" style="left:810px;top:273px" width="19" height="15"><path d="M4.5,0.7H12.5V6.5H17L8.5,13.3L0.7,6.5H4.5Z" fill="#fff" stroke="#222" stroke-width="1.3"/></svg>


<svg class="a" style="left:669px;top:307px" width="300" height="132" viewBox="669 307 300 132">
<path d="M854.5,307V437" stroke="#d8d8d8" stroke-width="1"/>
<g stroke="#e2e2e2" stroke-width="0.8"><path d="M744.8,314.5V415.0M790.2,314.5V415.0M699.5,348.0H835.5M699.5,381.5H835.5"/></g>
<polygon points="835.5,347.3 834.9,347.2 834.4,347.1 833.8,346.9 833.2,346.8 832.7,346.7 832.1,346.5 831.5,346.4 831.0,346.3 830.4,346.2 829.8,346.1 829.3,345.9 828.7,345.8 828.1,345.7 827.6,345.6 827.0,345.5 826.4,345.4 825.9,345.2 825.3,345.1 824.7,344.9 824.2,344.7 823.6,344.6 823.0,344.4 822.5,344.2 821.9,344.0 821.3,343.8 820.8,343.5 820.2,343.3 819.6,343.0 819.1,342.4 818.5,341.3 817.9,339.9 817.4,338.4 816.8,337.1 816.2,336.0 815.7,335.3 815.1,334.5 814.5,333.7 814.0,333.0 813.4,332.4 812.8,332.0 812.3,331.7 811.7,331.6 811.1,331.7 810.6,331.9 810.0,332.3 809.4,332.7 808.9,333.3 808.3,333.9 807.7,334.6 807.2,335.3 806.6,336.0 806.0,336.7 805.5,337.4 804.9,338.1 804.3,338.7 803.8,339.3 803.2,339.8 802.6,340.2 802.1,340.7 801.5,341.2 800.9,341.7 800.4,342.2 799.8,342.7 799.2,343.1 798.7,343.6 798.1,344.0 797.5,344.5 797.0,344.9 796.4,345.4 795.8,345.8 795.3,346.2 794.7,346.6 794.1,347.1 793.6,347.4 793.0,347.8 792.4,348.2 791.9,348.6 791.3,348.9 790.7,349.3 790.2,349.6 789.6,349.9 789.0,350.2 788.5,350.5 787.9,350.8 787.3,351.0 786.8,351.3 786.2,351.5 785.6,351.7 785.1,351.9 784.5,352.1 783.9,352.3 783.4,352.5 782.8,352.6 782.2,352.8 781.7,353.0 781.1,353.1 780.5,353.3 780.0,353.5 779.4,353.6 778.8,353.8 778.3,354.0 777.7,354.1 777.1,354.3 776.6,354.5 776.0,354.7 775.4,354.9 774.9,355.1 774.3,355.3 773.7,355.5 773.2,355.8 772.6,356.1 772.0,356.4 771.5,356.7 770.9,357.0 770.3,357.3 769.8,357.6 769.2,357.9 768.6,358.3 768.1,358.6 767.5,358.9 766.9,359.2 766.4,359.5 765.8,359.7 765.2,360.0 764.7,360.2 764.1,360.5 763.5,360.8 763.0,361.1 762.4,361.4 761.8,361.7 761.3,362.0 760.7,362.3 760.1,362.5 759.6,362.8 759.0,363.0 758.4,363.2 757.9,363.3 757.3,363.4 756.7,363.4 756.2,363.4 755.6,363.3 755.0,363.2 754.5,363.1 753.9,362.9 753.3,362.8 752.8,362.6 752.2,362.3 751.6,362.1 751.1,361.9 750.5,361.6 749.9,361.3 749.4,361.1 748.8,360.8 748.2,360.5 747.7,360.3 747.1,360.0 746.5,359.8 746.0,359.6 745.4,359.4 744.8,359.2 744.3,359.0 743.7,358.9 743.1,358.7 742.6,358.5 742.0,358.3 741.4,358.1 740.9,357.9 740.3,357.8 739.7,357.6 739.2,357.4 738.6,357.3 738.0,357.1 737.5,357.0 736.9,356.9 736.3,356.8 735.8,356.7 735.2,356.7 734.6,356.6 734.1,356.6 733.5,356.6 732.9,356.7 732.4,356.9 731.8,357.0 731.2,357.2 730.7,357.4 730.1,357.6 729.5,357.8 729.0,358.1 728.4,358.3 727.8,358.5 727.3,358.6 726.7,358.8 726.1,358.9 725.6,359.1 725.0,359.3 724.4,359.5 723.9,359.6 723.3,359.8 722.7,360.0 722.2,360.2 721.6,360.3 721.0,360.4 720.5,360.6 719.9,360.7 719.3,360.7 718.8,360.8 718.2,360.8 717.6,360.7 717.1,360.6 716.5,360.5 715.9,360.3 715.4,360.0 714.8,359.7 714.2,359.3 713.7,358.9 713.1,358.4 712.5,357.9 712.0,357.4 711.4,356.9 710.8,356.4 710.3,355.8 709.7,355.3 709.1,354.7 708.6,354.2 708.0,353.6 707.4,353.1 706.9,352.4 706.3,351.8 705.7,351.1 705.2,350.4 704.6,349.7 704.0,348.9 703.5,348.1 702.9,347.3 702.3,346.4 701.8,345.6 701.2,344.7 700.6,343.8 700.1,342.9 699.5,342.0 699.5,381.5 700.1,382.1 700.6,382.6 701.2,383.1 701.8,383.6 702.3,384.1 702.9,384.6 703.5,385.0 704.0,385.4 704.6,385.8 705.2,386.2 705.7,386.6 706.3,386.9 706.9,387.2 707.4,387.5 708.0,387.7 708.6,387.9 709.1,388.1 709.7,388.4 710.3,388.6 710.8,388.8 711.4,389.1 712.0,389.3 712.5,389.5 713.1,389.7 713.7,389.9 714.2,390.1 714.8,390.2 715.4,390.3 715.9,390.3 716.5,390.3 717.1,390.3 717.6,390.2 718.2,390.1 718.8,389.9 719.3,389.7 719.9,389.5 720.5,389.2 721.0,388.9 721.6,388.6 722.2,388.3 722.7,388.0 723.3,387.7 723.9,387.4 724.4,387.1 725.0,386.8 725.6,386.5 726.1,386.2 726.7,385.9 727.3,385.6 727.8,385.3 728.4,385.0 729.0,384.7 729.5,384.3 730.1,384.0 730.7,383.7 731.2,383.4 731.8,383.1 732.4,382.8 732.9,382.6 733.5,382.4 734.1,382.3 734.6,382.2 735.2,382.1 735.8,382.1 736.3,382.1 736.9,382.1 737.5,382.1 738.0,382.1 738.6,382.2 739.2,382.3 739.7,382.3 740.3,382.4 740.9,382.5 741.4,382.6 742.0,382.7 742.6,382.7 743.1,382.8 743.7,382.9 744.3,383.0 744.8,383.1 745.4,383.1 746.0,383.2 746.5,383.4 747.1,383.5 747.7,383.6 748.2,383.8 748.8,383.9 749.4,384.1 749.9,384.2 750.5,384.4 751.1,384.5 751.6,384.6 752.2,384.7 752.8,384.8 753.3,384.9 753.9,385.0 754.5,385.0 755.0,385.0 755.6,384.9 756.2,384.9 756.7,384.7 757.3,384.5 757.9,384.3 758.4,384.0 759.0,383.6 759.6,383.2 760.1,382.8 760.7,382.3 761.3,381.8 761.8,381.3 762.4,380.8 763.0,380.2 763.5,379.7 764.1,379.2 764.7,378.7 765.2,378.2 765.8,377.7 766.4,377.2 766.9,376.7 767.5,376.1 768.1,375.5 768.6,375.0 769.2,374.4 769.8,373.8 770.3,373.2 770.9,372.7 771.5,372.1 772.0,371.5 772.6,371.0 773.2,370.5 773.7,370.0 774.3,369.5 774.9,369.0 775.4,368.6 776.0,368.1 776.6,367.7 777.1,367.3 777.7,366.9 778.3,366.5 778.8,366.1 779.4,365.7 780.0,365.3 780.5,365.0 781.1,364.6 781.7,364.3 782.2,363.9 782.8,363.6 783.4,363.2 783.9,362.9 784.5,362.5 785.1,362.2 785.6,361.8 786.2,361.5 786.8,361.1 787.3,360.8 787.9,360.4 788.5,360.1 789.0,359.7 789.6,359.4 790.2,359.0 790.7,358.6 791.3,358.2 791.9,357.8 792.4,357.4 793.0,357.0 793.6,356.6 794.1,356.2 794.7,355.8 795.3,355.3 795.8,354.9 796.4,354.5 797.0,354.0 797.5,353.6 798.1,353.1 798.7,352.6 799.2,352.2 799.8,351.7 800.4,351.2 800.9,350.7 801.5,350.3 802.1,349.8 802.6,349.3 803.2,348.8 803.8,348.3 804.3,347.8 804.9,347.1 805.5,346.5 806.0,345.8 806.6,345.0 807.2,344.3 807.7,343.6 808.3,342.9 808.9,342.2 809.4,341.6 810.0,341.2 810.6,340.8 811.1,340.5 811.7,340.4 812.3,340.4 812.8,340.7 813.4,341.1 814.0,341.6 814.5,342.2 815.1,342.9 815.7,343.6 816.2,344.3 816.8,345.2 817.4,346.5 817.9,347.8 818.5,349.1 819.1,350.1 819.6,350.5 820.2,350.6 820.8,350.7 821.3,350.8 821.9,350.8 822.5,350.9 823.0,350.9 823.6,350.9 824.2,350.9 824.7,350.8 825.3,350.8 825.9,350.7 826.4,350.6 827.0,350.5 827.6,350.4 828.1,350.3 828.7,350.2 829.3,350.1 829.8,350.0 830.4,349.8 831.0,349.7 831.5,349.6 832.1,349.5 832.7,349.3 833.2,349.2 833.8,349.1 834.4,348.9 834.9,348.8 835.5,348.7" fill="#f8c8cc"/>
<polygon points="835.5,347.3 834.9,347.2 834.4,347.1 833.8,347.0 833.2,346.9 832.7,346.9 832.1,346.8 831.5,346.7 831.0,346.6 830.4,346.5 829.8,346.4 829.3,346.3 828.7,346.2 828.1,346.1 827.6,346.1 827.0,346.0 826.4,345.9 825.9,345.8 825.3,345.6 824.7,345.5 824.2,345.3 823.6,345.2 823.0,345.0 822.5,344.8 821.9,344.6 821.3,344.4 820.8,344.2 820.2,344.0 819.6,343.7 819.1,343.2 818.5,342.0 817.9,340.6 817.4,339.2 816.8,337.8 816.2,336.8 815.7,336.0 815.1,335.2 814.5,334.4 814.0,333.7 813.4,333.1 812.8,332.7 812.3,332.3 811.7,332.2 811.1,332.3 810.6,332.7 810.0,333.2 809.4,333.9 808.9,334.7 808.3,335.7 807.7,336.7 807.2,337.7 806.6,338.8 806.0,339.8 805.5,340.8 804.9,341.7 804.3,342.5 803.8,343.2 803.2,343.8 802.6,344.4 802.1,344.9 801.5,345.5 800.9,346.0 800.4,346.5 799.8,347.0 799.2,347.5 798.7,348.0 798.1,348.4 797.5,348.9 797.0,349.3 796.4,349.8 795.8,350.2 795.3,350.6 794.7,351.0 794.1,351.4 793.6,351.9 793.0,352.3 792.4,352.7 791.9,353.1 791.3,353.4 790.7,353.8 790.2,354.2 789.6,354.6 789.0,355.0 788.5,355.4 787.9,355.7 787.3,356.1 786.8,356.5 786.2,356.8 785.6,357.2 785.1,357.5 784.5,357.9 783.9,358.2 783.4,358.5 782.8,358.9 782.2,359.2 781.7,359.5 781.1,359.8 780.5,360.2 780.0,360.5 779.4,360.8 778.8,361.1 778.3,361.4 777.7,361.8 777.1,362.1 776.6,362.4 776.0,362.7 775.4,363.1 774.9,363.4 774.3,363.7 773.7,364.1 773.2,364.4 772.6,364.7 772.0,365.1 771.5,365.4 770.9,365.8 770.3,366.1 769.8,366.4 769.2,366.8 768.6,367.1 768.1,367.4 767.5,367.8 766.9,368.1 766.4,368.4 765.8,368.7 765.2,369.1 764.7,369.4 764.1,369.8 763.5,370.2 763.0,370.6 762.4,371.0 761.8,371.5 761.3,371.9 760.7,372.3 760.1,372.7 759.6,373.0 759.0,373.3 758.4,373.6 757.9,373.8 757.3,374.0 756.7,374.1 756.2,374.1 755.6,374.1 755.0,374.0 754.5,373.9 753.9,373.8 753.3,373.6 752.8,373.5 752.2,373.3 751.6,373.1 751.1,372.8 750.5,372.6 749.9,372.4 749.4,372.1 748.8,371.9 748.2,371.7 747.7,371.4 747.1,371.2 746.5,371.0 746.0,370.8 745.4,370.6 744.8,370.5 744.3,370.3 743.7,370.1 743.1,370.0 742.6,369.8 742.0,369.6 741.4,369.5 740.9,369.3 740.3,369.2 739.7,369.0 739.2,368.9 738.6,368.7 738.0,368.6 737.5,368.5 736.9,368.4 736.3,368.3 735.8,368.2 735.2,368.2 734.6,368.1 734.1,368.2 733.5,368.3 732.9,368.4 732.4,368.7 731.8,368.9 731.2,369.2 730.7,369.6 730.1,369.9 729.5,370.3 729.0,370.6 728.4,371.0 727.8,371.3 727.3,371.6 726.7,371.9 726.1,372.1 725.6,372.4 725.0,372.7 724.4,373.0 723.9,373.3 723.3,373.6 722.7,373.9 722.2,374.2 721.6,374.5 721.0,374.8 720.5,375.0 719.9,375.2 719.3,375.3 718.8,375.4 718.2,375.5 717.6,375.5 717.1,375.4 716.5,375.3 715.9,375.2 715.4,375.0 714.8,374.7 714.2,374.5 713.7,374.1 713.1,373.8 712.5,373.5 712.0,373.1 711.4,372.7 710.8,372.3 710.3,371.9 709.7,371.5 709.1,371.0 708.6,370.6 708.0,370.2 707.4,369.7 706.9,369.2 706.3,368.7 705.7,368.1 705.2,367.5 704.6,366.8 704.0,366.2 703.5,365.5 702.9,364.8 702.3,364.0 701.8,363.3 701.2,362.5 700.6,361.7 700.1,360.9 699.5,360.1 699.5,376.1 700.1,376.8 700.6,377.5 701.2,378.1 701.8,378.7 702.3,379.3 702.9,379.9 703.5,380.5 704.0,381.0 704.6,381.5 705.2,382.0 705.7,382.5 706.3,382.9 706.9,383.3 707.4,383.7 708.0,384.0 708.6,384.3 709.1,384.6 709.7,384.9 710.3,385.2 710.8,385.5 711.4,385.8 712.0,386.1 712.5,386.3 713.1,386.6 713.7,386.8 714.2,387.0 714.8,387.2 715.4,387.3 715.9,387.4 716.5,387.5 717.1,387.5 717.6,387.5 718.2,387.5 718.8,387.4 719.3,387.2 719.9,387.0 720.5,386.7 721.0,386.5 721.6,386.1 722.2,385.8 722.7,385.5 723.3,385.1 723.9,384.8 724.4,384.4 725.0,384.0 725.6,383.7 726.1,383.4 726.7,383.1 727.3,382.8 727.8,382.4 728.4,382.0 729.0,381.6 729.5,381.2 730.1,380.8 730.7,380.4 731.2,380.1 731.8,379.7 732.4,379.4 732.9,379.2 733.5,379.0 734.1,378.8 734.6,378.8 735.2,378.8 735.8,378.8 736.3,378.8 736.9,378.9 737.5,378.9 738.0,379.0 738.6,379.1 739.2,379.2 739.7,379.3 740.3,379.4 740.9,379.6 741.4,379.7 742.0,379.8 742.6,380.0 743.1,380.1 743.7,380.2 744.3,380.4 744.8,380.5 745.4,380.6 746.0,380.8 746.5,380.9 747.1,381.1 747.7,381.3 748.2,381.5 748.8,381.7 749.4,381.9 749.9,382.1 750.5,382.3 751.1,382.5 751.6,382.7 752.2,382.9 752.8,383.1 753.3,383.2 753.9,383.3 754.5,383.4 755.0,383.5 755.6,383.5 756.2,383.5 756.7,383.5 757.3,383.3 757.9,383.1 758.4,382.9 759.0,382.5 759.6,382.2 760.1,381.8 760.7,381.4 761.3,380.9 761.8,380.5 762.4,380.0 763.0,379.5 763.5,379.1 764.1,378.6 764.7,378.2 765.2,377.9 765.8,377.5 766.4,377.1 766.9,376.8 767.5,376.4 768.1,376.0 768.6,375.7 769.2,375.3 769.8,374.9 770.3,374.5 770.9,374.2 771.5,373.8 772.0,373.4 772.6,373.0 773.2,372.7 773.7,372.3 774.3,371.9 774.9,371.6 775.4,371.2 776.0,370.8 776.6,370.5 777.1,370.1 777.7,369.8 778.3,369.4 778.8,369.0 779.4,368.7 780.0,368.3 780.5,368.0 781.1,367.6 781.7,367.3 782.2,366.9 782.8,366.6 783.4,366.2 783.9,365.8 784.5,365.5 785.1,365.1 785.6,364.7 786.2,364.4 786.8,364.0 787.3,363.6 787.9,363.2 788.5,362.8 789.0,362.4 789.6,362.0 790.2,361.6 790.7,361.2 791.3,360.8 791.9,360.4 792.4,359.9 793.0,359.5 793.6,359.1 794.1,358.7 794.7,358.3 795.3,357.8 795.8,357.4 796.4,357.0 797.0,356.5 797.5,356.0 798.1,355.6 798.7,355.1 799.2,354.6 799.8,354.1 800.4,353.6 800.9,353.1 801.5,352.5 802.1,352.0 802.6,351.4 803.2,350.8 803.8,350.2 804.3,349.6 804.9,348.7 805.5,347.8 806.0,346.8 806.6,345.7 807.2,344.6 807.7,343.6 808.3,342.5 808.9,341.6 809.4,340.7 810.0,340.0 810.6,339.5 811.1,339.1 811.7,339.0 812.3,339.1 812.8,339.4 813.4,339.8 814.0,340.4 814.5,341.0 815.1,341.7 815.7,342.4 816.2,343.2 816.8,344.1 817.4,345.4 817.9,346.8 818.5,348.1 819.1,349.1 819.6,349.6 820.2,349.7 820.8,349.8 821.3,349.9 821.9,350.0 822.5,350.1 823.0,350.1 823.6,350.2 824.2,350.2 824.7,350.2 825.3,350.2 825.9,350.1 826.4,350.1 827.0,350.0 827.6,349.9 828.1,349.9 828.7,349.8 829.3,349.7 829.8,349.6 830.4,349.5 831.0,349.4 831.5,349.3 832.1,349.2 832.7,349.1 833.2,349.1 833.8,349.0 834.4,348.9 834.9,348.8 835.5,348.7" fill="#c8c6f0" opacity="0.85"/>
<polyline points="835.5,348.0 834.9,348.0 834.4,348.0 833.8,348.0 833.2,348.0 832.7,348.0 832.1,348.0 831.5,348.0 831.0,348.0 830.4,348.0 829.8,348.0 829.3,348.0 828.7,348.0 828.1,348.0 827.6,348.0 827.0,348.0 826.4,348.0 825.9,347.9 825.3,347.9 824.7,347.8 824.2,347.8 823.6,347.7 823.0,347.6 822.5,347.5 821.9,347.3 821.3,347.2 820.8,347.0 820.2,346.9 819.6,346.7 819.1,346.1 818.5,345.1 817.9,343.7 817.4,342.3 816.8,340.9 816.2,340.0 815.7,339.2 815.1,338.4 814.5,337.7 814.0,337.0 813.4,336.5 812.8,336.0 812.3,335.7 811.7,335.6 811.1,335.7 810.6,335.9 810.0,336.2 809.4,336.7 808.9,337.2 808.3,337.8 807.7,338.5 807.2,339.2 806.6,339.9 806.0,340.6 805.5,341.3 804.9,341.9 804.3,342.5 803.8,343.0 803.2,343.5 802.6,344.0 802.1,344.4 801.5,344.9 800.9,345.4 800.4,345.8 799.8,346.3 799.2,346.7 798.7,347.1 798.1,347.6 797.5,348.0 797.0,348.4 796.4,348.9 795.8,349.3 795.3,349.7 794.7,350.1 794.1,350.5 793.6,350.8 793.0,351.2 792.4,351.6 791.9,351.9 791.3,352.3 790.7,352.6 790.2,353.0 789.6,353.3 789.0,353.6 788.5,353.9 787.9,354.2 787.3,354.4 786.8,354.7 786.2,355.0 785.6,355.2 785.1,355.5 784.5,355.7 783.9,356.0 783.4,356.2 782.8,356.4 782.2,356.7 781.7,356.9 781.1,357.2 780.5,357.4 780.0,357.6 779.4,357.9 778.8,358.1 778.3,358.4 777.7,358.6 777.1,358.9 776.6,359.2 776.0,359.5 775.4,359.8 774.9,360.1 774.3,360.4 773.7,360.7 773.2,361.1 772.6,361.5 772.0,361.9 771.5,362.3 770.9,362.7 770.3,363.1 769.8,363.6 769.2,364.0 768.6,364.4 768.1,364.8 767.5,365.2 766.9,365.7 766.4,366.0 765.8,366.4 765.2,366.8 764.7,367.1 764.1,367.5 763.5,367.9 763.0,368.3 762.4,368.6 761.8,369.0 761.3,369.4 760.7,369.8 760.1,370.1 759.6,370.4 759.0,370.7 758.4,371.0 757.9,371.2 757.3,371.3 756.7,371.4 756.2,371.4 755.6,371.4 755.0,371.4 754.5,371.3 753.9,371.2 753.3,371.1 752.8,370.9 752.2,370.7 751.6,370.5 751.1,370.3 750.5,370.1 749.9,369.9 749.4,369.7 748.8,369.4 748.2,369.2 747.7,369.0 747.1,368.8 746.5,368.6 746.0,368.4 745.4,368.2 744.8,368.1 744.3,368.0 743.7,367.8 743.1,367.7 742.6,367.5 742.0,367.4 741.4,367.2 740.9,367.1 740.3,366.9 739.7,366.8 739.2,366.7 738.6,366.5 738.0,366.4 737.5,366.3 736.9,366.3 736.3,366.2 735.8,366.1 735.2,366.1 734.6,366.1 734.1,366.1 733.5,366.2 732.9,366.3 732.4,366.5 731.8,366.7 731.2,366.9 730.7,367.1 730.1,367.4 729.5,367.6 729.0,367.9 728.4,368.1 727.8,368.4 727.3,368.6 726.7,368.8 726.1,369.0 725.6,369.2 725.0,369.4 724.4,369.6 723.9,369.8 723.3,370.0 722.7,370.3 722.2,370.5 721.6,370.7 721.0,370.9 720.5,371.0 719.9,371.2 719.3,371.3 718.8,371.4 718.2,371.4 717.6,371.4 717.1,371.4 716.5,371.3 715.9,371.2 715.4,370.9 714.8,370.7 714.2,370.4 713.7,370.0 713.1,369.7 712.5,369.3 712.0,368.8 711.4,368.4 710.8,367.9 710.3,367.5 709.7,367.0 709.1,366.5 708.6,366.1 708.0,365.6 707.4,365.1 706.9,364.6 706.3,364.0 705.7,363.4 705.2,362.8 704.6,362.2 704.0,361.5 703.5,360.8 702.9,360.1 702.3,359.4 701.8,358.6 701.2,357.8 700.6,357.0 700.1,356.2 699.5,355.4" fill="none" stroke="#d88888" stroke-width="0.9"/>
<polyline points="835.5,348.0 834.9,348.0 834.4,348.0 833.8,348.0 833.2,348.0 832.7,348.0 832.1,348.0 831.5,348.0 831.0,348.0 830.4,348.0 829.8,348.0 829.3,348.0 828.7,348.0 828.1,348.0 827.6,348.0 827.0,348.0 826.4,348.0 825.9,347.9 825.3,347.9 824.7,347.8 824.2,347.8 823.6,347.7 823.0,347.6 822.5,347.5 821.9,347.3 821.3,347.2 820.8,347.0 820.2,346.9 819.6,346.7 819.1,346.1 818.5,345.1 817.9,343.7 817.4,342.3 816.8,340.9 816.2,340.0 815.7,339.2 815.1,338.4 814.5,337.7 814.0,337.0 813.4,336.5 812.8,336.0 812.3,335.7 811.7,335.6 811.1,335.7 810.6,336.1 810.0,336.6 809.4,337.3 808.9,338.2 808.3,339.1 807.7,340.1 807.2,341.2 806.6,342.2 806.0,343.3 805.5,344.3 804.9,345.2 804.3,346.0 803.8,346.7 803.2,347.3 802.6,347.9 802.1,348.5 801.5,349.0 800.9,349.5 800.4,350.1 799.8,350.6 799.2,351.0 798.7,351.5 798.1,352.0 797.5,352.5 797.0,352.9 796.4,353.4 795.8,353.8 795.3,354.2 794.7,354.6 794.1,355.1 793.6,355.5 793.0,355.9 792.4,356.3 791.9,356.7 791.3,357.1 790.7,357.5 790.2,357.9 789.6,358.3 789.0,358.7 788.5,359.1 787.9,359.5 787.3,359.9 786.8,360.2 786.2,360.6 785.6,361.0 785.1,361.3 784.5,361.7 783.9,362.0 783.4,362.4 782.8,362.7 782.2,363.1 781.7,363.4 781.1,363.7 780.5,364.1 780.0,364.4 779.4,364.7 778.8,365.1 778.3,365.4 777.7,365.8 777.1,366.1 776.6,366.4 776.0,366.8 775.4,367.1 774.9,367.5 774.3,367.8 773.7,368.2 773.2,368.5 772.6,368.9 772.0,369.2 771.5,369.6 770.9,370.0 770.3,370.3 769.8,370.7 769.2,371.0 768.6,371.4 768.1,371.7 767.5,372.1 766.9,372.4 766.4,372.8 765.8,373.1 765.2,373.5 764.7,373.8 764.1,374.2 763.5,374.6 763.0,375.1 762.4,375.5 761.8,376.0 761.3,376.4 760.7,376.8 760.1,377.2 759.6,377.6 759.0,377.9 758.4,378.2 757.9,378.5 757.3,378.7 756.7,378.8 756.2,378.8 755.6,378.8 755.0,378.8 754.5,378.7 753.9,378.6 753.3,378.4 752.8,378.3 752.2,378.1 751.6,377.9 751.1,377.7 750.5,377.5 749.9,377.3 749.4,377.0 748.8,376.8 748.2,376.6 747.7,376.4 747.1,376.2 746.5,376.0 746.0,375.8 745.4,375.6 744.8,375.5 744.3,375.3 743.7,375.2 743.1,375.0 742.6,374.9 742.0,374.7 741.4,374.6 740.9,374.4 740.3,374.3 739.7,374.2 739.2,374.0 738.6,373.9 738.0,373.8 737.5,373.7 736.9,373.6 736.3,373.6 735.8,373.5 735.2,373.5 734.6,373.5 734.1,373.5 733.5,373.6 732.9,373.8 732.4,374.0 731.8,374.3 731.2,374.6 730.7,375.0 730.1,375.4 729.5,375.8 729.0,376.1 728.4,376.5 727.8,376.9 727.3,377.2 726.7,377.5 726.1,377.8 725.6,378.1 725.0,378.4 724.4,378.7 723.9,379.0 723.3,379.4 722.7,379.7 722.2,380.0 721.6,380.3 721.0,380.6 720.5,380.9 719.9,381.1 719.3,381.3 718.8,381.4 718.2,381.5 717.6,381.5 717.1,381.5 716.5,381.4 715.9,381.3 715.4,381.1 714.8,380.9 714.2,380.7 713.7,380.5 713.1,380.2 712.5,379.9 712.0,379.6 711.4,379.2 710.8,378.9 710.3,378.5 709.7,378.2 709.1,377.8 708.6,377.5 708.0,377.1 707.4,376.7 706.9,376.3 706.3,375.8 705.7,375.3 705.2,374.7 704.6,374.2 704.0,373.6 703.5,373.0 702.9,372.3 702.3,371.7 701.8,371.0 701.2,370.3 700.6,369.6 700.1,368.8 699.5,368.1" fill="none" stroke="#7a72cc" stroke-width="1"/>
<path d="M756.2,314.5V415.0" stroke="#666" stroke-width="0.7" stroke-dasharray="2.5,1.5"/>
<rect x="699.5" y="314.5" width="136.0" height="100.5" fill="none" stroke="#999" stroke-width="0.8"/>
<g font-family="Liberation Serif" font-size="9.5" fill="#444">
<text x="696.5" y="318.0" text-anchor="end">5</text>
<text x="696.5" y="351.5" text-anchor="end">0</text>
<text x="696.5" y="385.0" text-anchor="end">-5</text>
<text x="696.5" y="418.5" text-anchor="end">-10</text>
<text x="699.5" y="425.5" text-anchor="middle">6</text>
<text x="744.8" y="425.5" text-anchor="middle">4</text>
<text x="790.2" y="425.5" text-anchor="middle">2</text>
<text x="835.5" y="425.5" text-anchor="middle">0</text>
<text x="726" y="434.5" font-size="9.1">Frequency offset (ppm)</text>
<text transform="translate(680.5,363) rotate(-90)" text-anchor="middle" font-size="9.5">MTR<tspan font-size="6" dy="1.5">asym</tspan><tspan dy="-1.5">(%)</tspan></text>
</g>
<rect x="704" y="397.5" width="12.5" height="7.5" fill="#f8c8cc"/>
<rect x="704" y="405.5" width="12.5" height="7.5" fill="#c8c6f0"/>
<g font-family="Liberation Serif" font-size="8" fill="#333">
<text x="716.5" y="404">without MC</text>
<text x="716.5" y="412">with MC</text>
</g>
</svg>

<svg class="a" style="left:840px;top:307px" width="131" height="132" viewBox="840 307 131 132">
<defs>
<radialGradient id="gGray" cx="40%" cy="40%" r="60%"><stop offset="0" stop-color="#d0d0d0"/><stop offset="0.8" stop-color="#b8b8b8"/><stop offset="1" stop-color="#909090"/></radialGradient>
<linearGradient id="gCB" x1="0" x2="0" y1="0" y2="1"><stop offset="0" stop-color="#fff"/><stop offset="1" stop-color="#000"/></linearGradient>
<linearGradient id="gJet" x1="0" x2="0" y1="0" y2="1"><stop offset="0" stop-color="#900000"/><stop offset="0.15" stop-color="#ff2000"/><stop offset="0.38" stop-color="#ffd000"/><stop offset="0.55" stop-color="#60ff90"/><stop offset="0.72" stop-color="#00c0ff"/><stop offset="0.9" stop-color="#0020e0"/><stop offset="1" stop-color="#000090"/></linearGradient>
<clipPath id="cG1"><rect x="869.4" y="313.4" width="49.2" height="48.4"/></clipPath>
<clipPath id="cC1"><rect x="846" y="369.6" width="49" height="48"/></clipPath>
<clipPath id="cC2"><rect x="899.4" y="369.6" width="46.8" height="48"/></clipPath>
<filter id="spY" x="0" y="0" width="100%" height="100%"><feTurbulence type="fractalNoise" baseFrequency="0.35" numOctaves="1" seed="3"/><feColorMatrix type="matrix" values="0 0 0 0 0.8  0 0 0 0 0.95  0 0 0 0 0.3  9 0 0 0 -4.6"/><feComposite in2="SourceGraphic" operator="in"/></filter>
<filter id="spB" x="0" y="0" width="100%" height="100%"><feTurbulence type="fractalNoise" baseFrequency="0.25" numOctaves="1" seed="9"/><feColorMatrix type="matrix" values="0 0 0 0 0.0  0 0 0 0 0.15  0 0 0 0 0.8  9 0 0 0 -5.0"/><feComposite in2="SourceGraphic" operator="in"/></filter>
<filter id="spR" x="0" y="0" width="100%" height="100%"><feTurbulence type="fractalNoise" baseFrequency="0.2 0.45" numOctaves="1" seed="21"/><feColorMatrix type="matrix" values="0 0 0 0 0.85  0 0 0 0 0.2  0 0 0 0 0.15  10 0 0 0 -6.3"/><feComposite in2="SourceGraphic" operator="in"/></filter>
</defs>
<rect x="869.4" y="313.4" width="49.2" height="48.4" fill="#000"/>
<g clip-path="url(#cG1)"><ellipse cx="906" cy="353" rx="36" ry="38" fill="#888"/><ellipse cx="906" cy="353" rx="33.5" ry="35.5" fill="#333"/><ellipse cx="906" cy="353" rx="32" ry="34" fill="url(#gGray)"/></g>
<path d="M876,340C880,337 885,338 888,342M877,346C881,344 885,345 888,349" stroke="#d04848" stroke-width="0.9" fill="none"/>
<rect x="888.5" y="331.8" width="30" height="29.5" fill="#cfcaca" stroke="#d42828" stroke-width="2"/>
<path d="M892,340C899,336 905,341 913,338M893,347C900,344 906,350 915,348M896,354C903,352 908,356 915,355M905,336C907,343 910,348 916,351" stroke="#d45050" stroke-width="0.8" fill="none"/>
<rect x="919.8" y="315.5" width="22.4" height="44.8" fill="#fff" stroke="#e0e0e0" stroke-width="0.7"/>
<rect x="920.5" y="318.2" width="4" height="38.8" fill="url(#gCB)"/>
<g font-family="Liberation Serif" font-size="8" fill="#666"><text x="925.5" y="323">6000</text><text x="927" y="360">0</text></g>
<rect x="846" y="369.6" width="49" height="48" fill="#000"/>
<g clip-path="url(#cC1)"><g transform="rotate(20,882,408)"><ellipse cx="876" cy="406" rx="26" ry="34" fill="#5a5a5a"/><ellipse cx="876" cy="406" rx="24.3" ry="32.3" fill="#202020"/><ellipse cx="876" cy="406" rx="23" ry="31" fill="#26d0f2"/><ellipse cx="876" cy="406" rx="23" ry="31" fill="#fff" filter="url(#spY)"/><ellipse cx="876" cy="406" rx="23" ry="31" fill="#fff" filter="url(#spB)" opacity="0.5"/></g></g>
<rect x="866" y="387.6" width="29" height="29.9" fill="#30c8f0" stroke="#d42828" stroke-width="2"/>
<rect x="867" y="388.6" width="27" height="27.9" fill="#fff" filter="url(#spB)"/>
<rect x="867" y="388.6" width="27" height="27.9" fill="#fff" filter="url(#spR)"/>
<rect x="899.4" y="369.6" width="46.8" height="48" fill="#000"/>
<g clip-path="url(#cC2)"><g transform="rotate(-12,928.5,406)"><ellipse cx="929.5" cy="406" rx="26" ry="34" fill="#5a5a5a"/><ellipse cx="929.5" cy="406" rx="24.3" ry="32.3" fill="#202020"/><ellipse cx="929.5" cy="406" rx="23" ry="31" fill="#3cd0ea"/><ellipse cx="929.5" cy="406" rx="23" ry="31" fill="#fff" filter="url(#spY)"/></g></g>
<rect x="919" y="387.6" width="27.2" height="29.9" fill="#38c4ee" stroke="#d42828" stroke-width="2"/>
<rect x="920" y="388.6" width="25.2" height="27.9" fill="#fff" filter="url(#spB)" opacity="0.7"/>
<rect x="947" y="369.5" width="19.8" height="47.8" fill="#fff" stroke="#e0e0e0" stroke-width="0.7"/>
<rect x="949" y="373.6" width="3.3" height="39.9" fill="url(#gJet)"/>
<g font-family="Liberation Serif" font-size="8.5" fill="#666"><text x="955" y="377">0.4</text><text x="953.5" y="415">-0.1</text></g>
</svg>

</body></html>
